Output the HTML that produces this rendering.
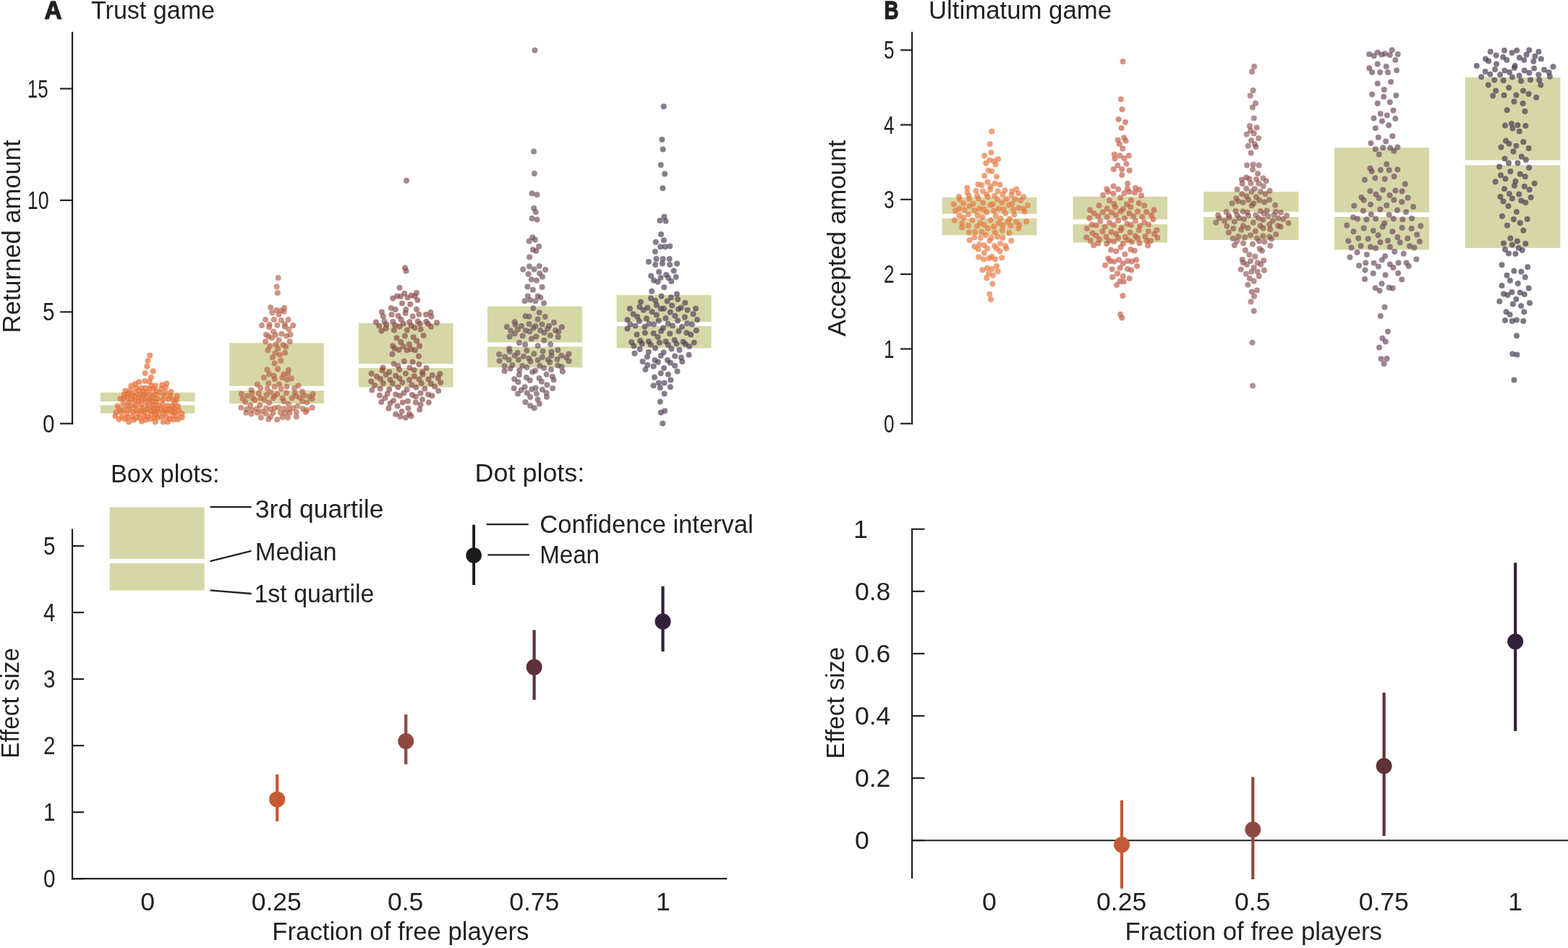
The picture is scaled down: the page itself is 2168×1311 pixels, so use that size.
<!DOCTYPE html>
<html><head><meta charset="utf-8"><title>Trust game and Ultimatum game</title>
<style>
html,body{margin:0;padding:0;background:#fff;}
svg{display:block;}
text{font-family:'Liberation Sans', sans-serif;fill:#231f20;}
</style></head><body>
<svg width="2168" height="1311" viewBox="0 0 2168 1311">
<rect width="2168" height="1311" fill="#ffffff"/>
<text x="61.5" y="26.2" font-size="35.5" font-weight="bold" textLength="24.0" lengthAdjust="spacingAndGlyphs" stroke="#231f20" stroke-width="1.4" stroke-linejoin="round">A</text>
<text x="126.0" y="26.4" font-size="35.5" textLength="171.0" lengthAdjust="spacingAndGlyphs">Trust game</text>
<text x="1222.5" y="26.2" font-size="35.5" font-weight="bold" textLength="20.0" lengthAdjust="spacingAndGlyphs" stroke="#231f20" stroke-width="1.4" stroke-linejoin="round">B</text>
<text x="1284.0" y="26.4" font-size="35.5" textLength="253.0" lengthAdjust="spacingAndGlyphs">Ultimatum game</text>
<line x1="100.0" y1="44.0" x2="100.0" y2="587.0" stroke="#231f20" stroke-width="2.2"/>
<line x1="83.0" y1="585.8" x2="101.2" y2="585.8" stroke="#231f20" stroke-width="2.2"/>
<text x="59.0" y="597.8" font-size="35.5" textLength="16.5" lengthAdjust="spacingAndGlyphs">0</text>
<line x1="83.0" y1="431.4" x2="101.2" y2="431.4" stroke="#231f20" stroke-width="2.2"/>
<text x="59.0" y="443.4" font-size="35.5" textLength="16.5" lengthAdjust="spacingAndGlyphs">5</text>
<line x1="83.0" y1="277.0" x2="101.2" y2="277.0" stroke="#231f20" stroke-width="2.2"/>
<text x="37.8" y="289.0" font-size="35.5" textLength="29.8" lengthAdjust="spacingAndGlyphs">10</text>
<line x1="83.0" y1="122.6" x2="101.2" y2="122.6" stroke="#231f20" stroke-width="2.2"/>
<text x="37.8" y="134.6" font-size="35.5" textLength="28.9" lengthAdjust="spacingAndGlyphs">15</text>
<text x="27.5" y="460.5" font-size="35.5" textLength="267.0" lengthAdjust="spacingAndGlyphs" transform="rotate(-90 27.5 460.5)">Returned amount</text>
<line x1="1261.0" y1="44.0" x2="1261.0" y2="587.0" stroke="#231f20" stroke-width="2.2"/>
<line x1="1245.0" y1="585.8" x2="1262.2" y2="585.8" stroke="#231f20" stroke-width="2.2"/>
<text x="1222.0" y="597.8" font-size="35.5" textLength="14.5" lengthAdjust="spacingAndGlyphs">0</text>
<line x1="1245.0" y1="482.5" x2="1262.2" y2="482.5" stroke="#231f20" stroke-width="2.2"/>
<text x="1222.0" y="494.5" font-size="35.5" textLength="14.5" lengthAdjust="spacingAndGlyphs">1</text>
<line x1="1245.0" y1="379.2" x2="1262.2" y2="379.2" stroke="#231f20" stroke-width="2.2"/>
<text x="1222.0" y="391.2" font-size="35.5" textLength="14.5" lengthAdjust="spacingAndGlyphs">2</text>
<line x1="1245.0" y1="275.9" x2="1262.2" y2="275.9" stroke="#231f20" stroke-width="2.2"/>
<text x="1222.0" y="287.9" font-size="35.5" textLength="14.5" lengthAdjust="spacingAndGlyphs">3</text>
<line x1="1245.0" y1="172.6" x2="1262.2" y2="172.6" stroke="#231f20" stroke-width="2.2"/>
<text x="1222.0" y="184.6" font-size="35.5" textLength="14.5" lengthAdjust="spacingAndGlyphs">4</text>
<line x1="1245.0" y1="69.3" x2="1262.2" y2="69.3" stroke="#231f20" stroke-width="2.2"/>
<text x="1222.0" y="81.3" font-size="35.5" textLength="14.5" lengthAdjust="spacingAndGlyphs">5</text>
<text x="1169.0" y="465.3" font-size="35.5" textLength="271.4" lengthAdjust="spacingAndGlyphs" transform="rotate(-90 1169.0 465.3)">Accepted amount</text>
<line x1="100.0" y1="731.5" x2="100.0" y2="1216.4" stroke="#231f20" stroke-width="2.2"/>
<line x1="98.8" y1="1215.2" x2="1005.2" y2="1215.2" stroke="#231f20" stroke-width="2.2"/>
<line x1="100.0" y1="1215.2" x2="116.0" y2="1215.2" stroke="#231f20" stroke-width="2.2"/>
<text x="60.0" y="1227.2" font-size="35.5" textLength="16.5" lengthAdjust="spacingAndGlyphs">0</text>
<line x1="100.0" y1="1123.2" x2="116.0" y2="1123.2" stroke="#231f20" stroke-width="2.2"/>
<text x="60.0" y="1135.2" font-size="35.5" textLength="16.5" lengthAdjust="spacingAndGlyphs">1</text>
<line x1="100.0" y1="1031.1" x2="116.0" y2="1031.1" stroke="#231f20" stroke-width="2.2"/>
<text x="60.0" y="1043.1" font-size="35.5" textLength="16.5" lengthAdjust="spacingAndGlyphs">2</text>
<line x1="100.0" y1="939.1" x2="116.0" y2="939.1" stroke="#231f20" stroke-width="2.2"/>
<text x="60.0" y="951.1" font-size="35.5" textLength="16.5" lengthAdjust="spacingAndGlyphs">3</text>
<line x1="100.0" y1="847.0" x2="116.0" y2="847.0" stroke="#231f20" stroke-width="2.2"/>
<text x="60.0" y="859.0" font-size="35.5" textLength="16.5" lengthAdjust="spacingAndGlyphs">4</text>
<line x1="100.0" y1="755.0" x2="116.0" y2="755.0" stroke="#231f20" stroke-width="2.2"/>
<text x="60.0" y="767.0" font-size="35.5" textLength="16.5" lengthAdjust="spacingAndGlyphs">5</text>
<text x="26.0" y="1048.8" font-size="35.5" textLength="152.8" lengthAdjust="spacingAndGlyphs" transform="rotate(-90 26.0 1048.8)">Effect size</text>
<text x="204.0" y="1259.3" font-size="35.5" text-anchor="middle">0</text>
<text x="382.3" y="1259.3" font-size="35.5" text-anchor="middle">0.25</text>
<text x="560.7" y="1259.3" font-size="35.5" text-anchor="middle">0.5</text>
<text x="738.8" y="1259.3" font-size="35.5" text-anchor="middle">0.75</text>
<text x="916.8" y="1259.3" font-size="35.5" text-anchor="middle">1</text>
<text x="376.3" y="1299.8" font-size="35.5" textLength="355.1" lengthAdjust="spacingAndGlyphs">Fraction of free players</text>
<line x1="1261.0" y1="731.7" x2="1261.0" y2="1215.0" stroke="#231f20" stroke-width="2.2"/>
<line x1="1261.0" y1="1162.2" x2="2168.0" y2="1162.2" stroke="#231f20" stroke-width="2"/>
<line x1="1259.8" y1="1162.2" x2="1278.4" y2="1162.2" stroke="#231f20" stroke-width="2.2"/>
<text x="1182.0" y="1174.2" font-size="35.5">0</text>
<line x1="1259.8" y1="1076.1" x2="1278.4" y2="1076.1" stroke="#231f20" stroke-width="2.2"/>
<text x="1182.0" y="1088.1" font-size="35.5">0.2</text>
<line x1="1259.8" y1="990.0" x2="1278.4" y2="990.0" stroke="#231f20" stroke-width="2.2"/>
<text x="1182.0" y="1002.0" font-size="35.5">0.4</text>
<line x1="1259.8" y1="903.9" x2="1278.4" y2="903.9" stroke="#231f20" stroke-width="2.2"/>
<text x="1182.0" y="915.9" font-size="35.5">0.6</text>
<line x1="1259.8" y1="817.8" x2="1278.4" y2="817.8" stroke="#231f20" stroke-width="2.2"/>
<text x="1182.0" y="829.8" font-size="35.5">0.8</text>
<line x1="1259.8" y1="731.7" x2="1278.4" y2="731.7" stroke="#231f20" stroke-width="2.2"/>
<text x="1180.0" y="743.7" font-size="35.5">1</text>
<text x="1166.6" y="1049.4" font-size="35.5" textLength="154.7" lengthAdjust="spacingAndGlyphs" transform="rotate(-90 1166.6 1049.4)">Effect size</text>
<text x="1367.9" y="1259.3" font-size="35.5" text-anchor="middle">0</text>
<text x="1550.6" y="1259.3" font-size="35.5" text-anchor="middle">0.25</text>
<text x="1731.8" y="1259.3" font-size="35.5" text-anchor="middle">0.5</text>
<text x="1913.2" y="1259.3" font-size="35.5" text-anchor="middle">0.75</text>
<text x="2095.0" y="1259.3" font-size="35.5" text-anchor="middle">1</text>
<text x="1555.5" y="1299.8" font-size="35.5" textLength="355.5" lengthAdjust="spacingAndGlyphs">Fraction of free players</text>
<text x="153.0" y="666.7" font-size="35.5" textLength="150.5" lengthAdjust="spacingAndGlyphs">Box plots:</text>
<rect x="151.7" y="701.2" width="131.0" height="115.2" fill="#d6d7a7"/>
<rect x="151.7" y="772.8" width="131.0" height="6.3" fill="#ffffff"/>
<line x1="290.5" y1="701.2" x2="347.6" y2="701.2" stroke="#231f20" stroke-width="2.3"/>
<line x1="290.5" y1="776.2" x2="347.6" y2="761.9" stroke="#231f20" stroke-width="2.3"/>
<line x1="290.5" y1="816.4" x2="347.6" y2="821.0" stroke="#231f20" stroke-width="2.3"/>
<text x="352.8" y="716.0" font-size="35.5" textLength="177.7" lengthAdjust="spacingAndGlyphs">3rd quartile</text>
<text x="352.8" y="774.9" font-size="35.5" textLength="112.8" lengthAdjust="spacingAndGlyphs">Median</text>
<text x="351.5" y="833.2" font-size="35.5" textLength="166.0" lengthAdjust="spacingAndGlyphs">1st quartile</text>
<text x="656.6" y="665.9" font-size="35.5" textLength="151.7" lengthAdjust="spacingAndGlyphs">Dot plots:</text>
<line x1="655.1" y1="725.7" x2="655.1" y2="809.0" stroke="#1c1a1c" stroke-width="3.9"/>
<circle cx="655.1" cy="768" r="10.8" fill="#1c1a1c"/>
<line x1="672.6" y1="725.1" x2="730.7" y2="725.1" stroke="#231f20" stroke-width="2.3"/>
<line x1="674.3" y1="767.4" x2="732.0" y2="767.4" stroke="#231f20" stroke-width="2.3"/>
<text x="746.3" y="737.0" font-size="35.5" textLength="295.4" lengthAdjust="spacingAndGlyphs">Confidence interval</text>
<text x="746.3" y="779.1" font-size="35.5" textLength="82.7" lengthAdjust="spacingAndGlyphs">Mean</text>
<line x1="383.2" y1="1070.9" x2="383.2" y2="1135.8" stroke="#c55a35" stroke-width="4.2"/>
<circle cx="383.2" cy="1105.4" r="11" fill="#c55a35"/>
<line x1="561.2" y1="988.0" x2="561.2" y2="1057.0" stroke="#8e4a40" stroke-width="4.2"/>
<circle cx="561.2" cy="1025.0" r="11" fill="#8e4a40"/>
<line x1="738.6" y1="871.2" x2="738.6" y2="967.9" stroke="#5f3139" stroke-width="4.2"/>
<circle cx="738.6" cy="922.6" r="11" fill="#5f3139"/>
<line x1="916.5" y1="810.7" x2="916.5" y2="901.0" stroke="#33203a" stroke-width="4.2"/>
<circle cx="916.5" cy="859.5" r="11" fill="#33203a"/>
<line x1="1551.0" y1="1106.7" x2="1551.0" y2="1228.8" stroke="#c55a35" stroke-width="4.2"/>
<circle cx="1551.0" cy="1168.2" r="11" fill="#c55a35"/>
<line x1="1732.3" y1="1074.5" x2="1732.3" y2="1216.1" stroke="#8e4a40" stroke-width="4.2"/>
<circle cx="1732.3" cy="1147.3" r="11" fill="#8e4a40"/>
<line x1="1913.6" y1="957.8" x2="1913.6" y2="1156.0" stroke="#5f3139" stroke-width="4.2"/>
<circle cx="1913.6" cy="1059.3" r="11" fill="#5f3139"/>
<line x1="2095.2" y1="778.3" x2="2095.2" y2="1011.0" stroke="#33203a" stroke-width="4.2"/>
<circle cx="2095.2" cy="887.2" r="11" fill="#33203a"/>
<rect x="138.8" y="542.7" width="130.6" height="28.9" fill="#d6d7a7"/>
<rect x="138.8" y="555.2" width="130.6" height="5.1" fill="#ffffff"/>
<rect x="317.2" y="474.3" width="130.6" height="83.8" fill="#d6d7a7"/>
<rect x="317.2" y="533.8" width="130.6" height="6.3" fill="#ffffff"/>
<rect x="495.9" y="447.0" width="130.7" height="88.5" fill="#d6d7a7"/>
<rect x="495.9" y="503.2" width="130.7" height="5.8" fill="#ffffff"/>
<rect x="674.0" y="423.5" width="131.1" height="84.7" fill="#d6d7a7"/>
<rect x="674.0" y="473.4" width="131.1" height="6.0" fill="#ffffff"/>
<rect x="852.6" y="408.0" width="130.9" height="73.5" fill="#d6d7a7"/>
<rect x="852.6" y="445.0" width="130.9" height="6.0" fill="#ffffff"/>
<rect x="1302.6" y="272.9" width="130.9" height="52.4" fill="#d6d7a7"/>
<rect x="1302.6" y="295.7" width="130.9" height="6.3" fill="#ffffff"/>
<rect x="1483.5" y="271.8" width="130.6" height="63.7" fill="#d6d7a7"/>
<rect x="1483.5" y="303.4" width="130.6" height="6.8" fill="#ffffff"/>
<rect x="1664.2" y="265.2" width="131.3" height="66.7" fill="#d6d7a7"/>
<rect x="1664.2" y="292.9" width="131.3" height="7.1" fill="#ffffff"/>
<rect x="1845.1" y="204.1" width="130.9" height="141.4" fill="#d6d7a7"/>
<rect x="1845.1" y="293.6" width="130.9" height="6.4" fill="#ffffff"/>
<rect x="2025.9" y="106.8" width="131.4" height="236.1" fill="#d6d7a7"/>
<rect x="2025.9" y="221.5" width="131.4" height="6.7" fill="#ffffff"/>
<g fill="#e8703a" fill-opacity="0.72"><circle cx="207.2" cy="491.4" r="4.0"/><circle cx="204.5" cy="498.9" r="4.0"/><circle cx="203.2" cy="506.7" r="4.0"/><circle cx="200.6" cy="516.0" r="4.0"/><circle cx="211.6" cy="513.3" r="4.0"/><circle cx="208.9" cy="522.1" r="4.0"/><circle cx="200.2" cy="527.0" r="4.0"/><circle cx="206.6" cy="527.8" r="4.0"/><circle cx="192.2" cy="528.3" r="4.0"/><circle cx="181.4" cy="533.5" r="4.0"/><circle cx="201.6" cy="536.6" r="4.0"/><circle cx="212.1" cy="537.6" r="4.0"/><circle cx="209.5" cy="533.2" r="4.0"/><circle cx="230.3" cy="530.4" r="4.0"/><circle cx="224.1" cy="532.3" r="4.0"/><circle cx="187.0" cy="530.9" r="4.0"/><circle cx="195.5" cy="536.5" r="4.0"/><circle cx="214.9" cy="533.4" r="4.0"/><circle cx="223.2" cy="537.6" r="4.0"/><circle cx="229.1" cy="535.5" r="4.0"/><circle cx="207.0" cy="537.8" r="4.0"/><circle cx="188.2" cy="536.2" r="4.0"/><circle cx="207.7" cy="545.0" r="4.0"/><circle cx="226.7" cy="546.9" r="4.0"/><circle cx="186.9" cy="542.7" r="4.0"/><circle cx="173.4" cy="540.5" r="4.0"/><circle cx="236.5" cy="542.0" r="4.0"/><circle cx="235.2" cy="546.9" r="4.0"/><circle cx="213.9" cy="546.1" r="4.0"/><circle cx="228.6" cy="542.3" r="4.0"/><circle cx="177.3" cy="543.9" r="4.0"/><circle cx="194.1" cy="545.2" r="4.0"/><circle cx="198.8" cy="546.5" r="4.0"/><circle cx="180.1" cy="539.4" r="4.0"/><circle cx="171.8" cy="545.2" r="4.0"/><circle cx="220.8" cy="543.0" r="4.0"/><circle cx="202.3" cy="542.8" r="4.0"/><circle cx="181.7" cy="546.3" r="4.0"/><circle cx="192.2" cy="540.1" r="4.0"/><circle cx="198.0" cy="540.9" r="4.0"/><circle cx="216.1" cy="540.7" r="4.0"/><circle cx="210.3" cy="549.4" r="4.0"/><circle cx="181.0" cy="552.4" r="4.0"/><circle cx="239.6" cy="553.0" r="4.0"/><circle cx="244.8" cy="547.8" r="4.0"/><circle cx="186.3" cy="548.5" r="4.0"/><circle cx="166.2" cy="551.3" r="4.0"/><circle cx="196.4" cy="552.6" r="4.0"/><circle cx="232.8" cy="552.1" r="4.0"/><circle cx="217.9" cy="551.6" r="4.0"/><circle cx="201.9" cy="550.3" r="4.0"/><circle cx="191.9" cy="549.5" r="4.0"/><circle cx="175.8" cy="549.4" r="4.0"/><circle cx="225.0" cy="553.0" r="4.0"/><circle cx="243.9" cy="552.7" r="4.0"/><circle cx="171.0" cy="550.7" r="4.0"/><circle cx="201.6" cy="556.5" r="4.0"/><circle cx="170.2" cy="558.0" r="4.0"/><circle cx="225.0" cy="559.2" r="4.0"/><circle cx="178.0" cy="556.4" r="4.0"/><circle cx="206.3" cy="553.3" r="4.0"/><circle cx="231.9" cy="561.0" r="4.0"/><circle cx="182.8" cy="560.9" r="4.0"/><circle cx="204.9" cy="560.7" r="4.0"/><circle cx="218.8" cy="560.2" r="4.0"/><circle cx="215.6" cy="555.9" r="4.0"/><circle cx="211.4" cy="560.1" r="4.0"/><circle cx="176.2" cy="560.9" r="4.0"/><circle cx="241.8" cy="557.6" r="4.0"/><circle cx="195.2" cy="559.1" r="4.0"/><circle cx="186.5" cy="554.2" r="4.0"/><circle cx="191.4" cy="555.4" r="4.0"/><circle cx="210.7" cy="555.5" r="4.0"/><circle cx="187.8" cy="560.6" r="4.0"/><circle cx="223.1" cy="565.5" r="4.0"/><circle cx="171.2" cy="566.7" r="4.0"/><circle cx="196.8" cy="564.6" r="4.0"/><circle cx="240.8" cy="565.5" r="4.0"/><circle cx="194.9" cy="569.0" r="4.0"/><circle cx="208.3" cy="567.8" r="4.0"/><circle cx="227.8" cy="566.8" r="4.0"/><circle cx="247.3" cy="567.6" r="4.0"/><circle cx="178.8" cy="566.7" r="4.0"/><circle cx="217.1" cy="565.2" r="4.0"/><circle cx="189.0" cy="566.7" r="4.0"/><circle cx="164.9" cy="565.9" r="4.0"/><circle cx="234.5" cy="565.7" r="4.0"/><circle cx="202.8" cy="566.1" r="4.0"/><circle cx="246.0" cy="561.7" r="4.0"/><circle cx="213.6" cy="569.4" r="4.0"/><circle cx="183.9" cy="569.7" r="4.0"/><circle cx="166.8" cy="569.8" r="4.0"/><circle cx="218.4" cy="569.9" r="4.0"/><circle cx="237.8" cy="569.0" r="4.0"/><circle cx="199.8" cy="569.8" r="4.0"/><circle cx="238.1" cy="561.0" r="4.0"/><circle cx="162.4" cy="561.4" r="4.0"/><circle cx="212.1" cy="564.7" r="4.0"/><circle cx="204.0" cy="576.3" r="4.0"/><circle cx="251.7" cy="572.3" r="4.0"/><circle cx="208.8" cy="573.1" r="4.0"/><circle cx="168.6" cy="576.6" r="4.0"/><circle cx="190.9" cy="572.0" r="4.0"/><circle cx="175.2" cy="572.3" r="4.0"/><circle cx="193.4" cy="577.7" r="4.0"/><circle cx="176.9" cy="577.6" r="4.0"/><circle cx="225.7" cy="572.1" r="4.0"/><circle cx="244.7" cy="574.7" r="4.0"/><circle cx="183.0" cy="576.2" r="4.0"/><circle cx="159.4" cy="575.4" r="4.0"/><circle cx="160.5" cy="570.3" r="4.0"/><circle cx="238.8" cy="574.6" r="4.0"/><circle cx="199.1" cy="575.5" r="4.0"/><circle cx="229.8" cy="576.6" r="4.0"/><circle cx="231.2" cy="570.3" r="4.0"/><circle cx="218.0" cy="577.5" r="4.0"/><circle cx="251.7" cy="577.3" r="4.0"/><circle cx="223.2" cy="576.6" r="4.0"/><circle cx="188.2" cy="577.9" r="4.0"/><circle cx="213.4" cy="577.9" r="4.0"/><circle cx="215.1" cy="573.6" r="4.0"/><circle cx="241.5" cy="570.3" r="4.0"/><circle cx="246.0" cy="580.1" r="4.0"/><circle cx="207.7" cy="579.5" r="4.0"/><circle cx="240.0" cy="580.3" r="4.0"/><circle cx="164.7" cy="579.8" r="4.0"/><circle cx="234.7" cy="579.2" r="4.0"/><circle cx="201.6" cy="580.8" r="4.0"/><circle cx="184.7" cy="580.7" r="4.0"/><circle cx="172.6" cy="579.4" r="4.0"/><circle cx="232.0" cy="583.5" r="4.0"/><circle cx="214.6" cy="583.5" r="4.0"/><circle cx="195.9" cy="582.8" r="4.0"/><circle cx="225.7" cy="583.4" r="4.0"/><circle cx="178.0" cy="583.5" r="4.0"/></g>
<g fill="#b8634a" fill-opacity="0.68"><circle cx="384.7" cy="384.2" r="4.0"/><circle cx="382.6" cy="396.6" r="4.0"/><circle cx="383.8" cy="405.0" r="4.0"/><circle cx="374.2" cy="425.2" r="4.0"/><circle cx="393.1" cy="425.8" r="4.0"/><circle cx="382.2" cy="429.1" r="4.0"/><circle cx="388.9" cy="429.5" r="4.0"/><circle cx="376.3" cy="432.5" r="4.0"/><circle cx="392.7" cy="430.8" r="4.0"/><circle cx="385.5" cy="435.0" r="4.0"/><circle cx="367.1" cy="442.1" r="4.0"/><circle cx="378.8" cy="442.1" r="4.0"/><circle cx="388.9" cy="443.0" r="4.0"/><circle cx="398.5" cy="442.1" r="4.0"/><circle cx="362.0" cy="450.1" r="4.0"/><circle cx="372.5" cy="448.8" r="4.0"/><circle cx="383.4" cy="449.7" r="4.0"/><circle cx="393.9" cy="448.4" r="4.0"/><circle cx="405.2" cy="450.1" r="4.0"/><circle cx="372.1" cy="452.2" r="4.0"/><circle cx="393.9" cy="451.8" r="4.0"/><circle cx="399.4" cy="455.6" r="4.0"/><circle cx="378.0" cy="458.5" r="4.0"/><circle cx="367.9" cy="462.7" r="4.0"/><circle cx="380.9" cy="463.1" r="4.0"/><circle cx="389.3" cy="461.8" r="4.0"/><circle cx="396.0" cy="464.4" r="4.0"/><circle cx="401.5" cy="462.7" r="4.0"/><circle cx="371.3" cy="465.2" r="4.0"/><circle cx="375.9" cy="467.3" r="4.0"/><circle cx="385.5" cy="470.2" r="4.0"/><circle cx="367.1" cy="472.3" r="4.0"/><circle cx="400.6" cy="472.3" r="4.0"/><circle cx="373.2" cy="478.7" r="4.0"/><circle cx="381.4" cy="476.4" r="4.0"/><circle cx="391.5" cy="476.9" r="4.0"/><circle cx="395.1" cy="479.6" r="4.0"/><circle cx="370.4" cy="484.2" r="4.0"/><circle cx="384.1" cy="481.9" r="4.0"/><circle cx="394.2" cy="487.9" r="4.0"/><circle cx="380.5" cy="488.3" r="4.0"/><circle cx="386.9" cy="490.6" r="4.0"/><circle cx="376.8" cy="494.3" r="4.0"/><circle cx="388.3" cy="498.8" r="4.0"/><circle cx="379.6" cy="502.5" r="4.0"/><circle cx="369.5" cy="511.2" r="4.0"/><circle cx="384.1" cy="510.3" r="4.0"/><circle cx="398.8" cy="511.7" r="4.0"/><circle cx="372.2" cy="517.6" r="4.0"/><circle cx="378.7" cy="519.4" r="4.0"/><circle cx="392.4" cy="517.6" r="4.0"/><circle cx="397.9" cy="517.1" r="4.0"/><circle cx="364.9" cy="522.2" r="4.0"/><circle cx="379.6" cy="524.0" r="4.0"/><circle cx="390.6" cy="522.2" r="4.0"/><circle cx="397.0" cy="524.9" r="4.0"/><circle cx="402.9" cy="523.6" r="4.0"/><circle cx="371.3" cy="530.0" r="4.0"/><circle cx="355.8" cy="531.8" r="4.0"/><circle cx="386.0" cy="531.3" r="4.0"/><circle cx="396.5" cy="534.5" r="4.0"/><circle cx="412.5" cy="533.2" r="4.0"/><circle cx="379.6" cy="535.0" r="4.0"/><circle cx="360.3" cy="536.8" r="4.0"/><circle cx="369.5" cy="537.3" r="4.0"/><circle cx="388.7" cy="537.7" r="4.0"/><circle cx="407.0" cy="536.8" r="4.0"/><circle cx="347.5" cy="539.6" r="4.0"/><circle cx="333.8" cy="544.6" r="4.0"/><circle cx="342.0" cy="547.4" r="4.0"/><circle cx="348.4" cy="543.2" r="4.0"/><circle cx="357.6" cy="544.1" r="4.0"/><circle cx="368.6" cy="546.0" r="4.0"/><circle cx="374.1" cy="542.3" r="4.0"/><circle cx="383.2" cy="545.1" r="4.0"/><circle cx="396.0" cy="543.2" r="4.0"/><circle cx="407.9" cy="543.2" r="4.0"/><circle cx="418.0" cy="541.4" r="4.0"/><circle cx="432.7" cy="545.1" r="4.0"/><circle cx="335.6" cy="551.5" r="4.0"/><circle cx="349.4" cy="550.6" r="4.0"/><circle cx="360.3" cy="550.6" r="4.0"/><circle cx="365.8" cy="552.8" r="4.0"/><circle cx="377.7" cy="550.6" r="4.0"/><circle cx="390.6" cy="550.6" r="4.0"/><circle cx="403.4" cy="550.6" r="4.0"/><circle cx="414.4" cy="549.6" r="4.0"/><circle cx="420.8" cy="546.9" r="4.0"/><circle cx="428.1" cy="548.7" r="4.0"/><circle cx="431.7" cy="551.5" r="4.0"/><circle cx="339.3" cy="556.0" r="4.0"/><circle cx="352.1" cy="553.3" r="4.0"/><circle cx="372.2" cy="557.0" r="4.0"/><circle cx="392.4" cy="555.1" r="4.0"/><circle cx="418.0" cy="555.1" r="4.0"/><circle cx="424.4" cy="556.5" r="4.0"/><circle cx="398.8" cy="558.8" r="4.0"/><circle cx="379.6" cy="547.8" r="4.0"/><circle cx="408.9" cy="547.8" r="4.0"/><circle cx="333.3" cy="563.8" r="4.0"/><circle cx="346.2" cy="560.6" r="4.0"/><circle cx="359.4" cy="560.6" r="4.0"/><circle cx="341.1" cy="566.1" r="4.0"/><circle cx="348.4" cy="567.0" r="4.0"/><circle cx="354.9" cy="565.2" r="4.0"/><circle cx="367.7" cy="564.7" r="4.0"/><circle cx="374.1" cy="565.7" r="4.0"/><circle cx="379.6" cy="564.3" r="4.0"/><circle cx="385.1" cy="563.4" r="4.0"/><circle cx="392.4" cy="565.2" r="4.0"/><circle cx="399.3" cy="566.1" r="4.0"/><circle cx="405.2" cy="564.3" r="4.0"/><circle cx="411.6" cy="561.5" r="4.0"/><circle cx="418.9" cy="565.2" r="4.0"/><circle cx="424.4" cy="567.0" r="4.0"/><circle cx="431.7" cy="563.8" r="4.0"/><circle cx="340.2" cy="570.7" r="4.0"/><circle cx="347.5" cy="572.5" r="4.0"/><circle cx="355.8" cy="570.7" r="4.0"/><circle cx="362.2" cy="568.9" r="4.0"/><circle cx="367.7" cy="572.1" r="4.0"/><circle cx="377.7" cy="570.7" r="4.0"/><circle cx="387.8" cy="570.7" r="4.0"/><circle cx="394.2" cy="571.2" r="4.0"/><circle cx="400.6" cy="570.7" r="4.0"/><circle cx="409.8" cy="569.8" r="4.0"/><circle cx="422.6" cy="569.8" r="4.0"/><circle cx="360.8" cy="577.6" r="4.0"/><circle cx="374.1" cy="576.2" r="4.0"/><circle cx="371.3" cy="579.8" r="4.0"/><circle cx="383.2" cy="580.3" r="4.0"/><circle cx="390.6" cy="577.1" r="4.0"/><circle cx="397.9" cy="577.6" r="4.0"/><circle cx="409.8" cy="576.2" r="4.0"/></g>
<g fill="#864848" fill-opacity="0.66"><circle cx="552.5" cy="398.0" r="4.0"/><circle cx="559.2" cy="405.7" r="4.0"/><circle cx="575.9" cy="405.0" r="4.0"/><circle cx="543.2" cy="412.5" r="4.0"/><circle cx="548.9" cy="409.4" r="4.0"/><circle cx="553.9" cy="410.0" r="4.0"/><circle cx="563.6" cy="411.4" r="4.0"/><circle cx="568.6" cy="408.4" r="4.0"/><circle cx="573.6" cy="409.4" r="4.0"/><circle cx="577.3" cy="415.1" r="4.0"/><circle cx="555.9" cy="419.4" r="4.0"/><circle cx="567.2" cy="420.7" r="4.0"/><circle cx="540.8" cy="426.1" r="4.0"/><circle cx="546.8" cy="428.1" r="4.0"/><circle cx="561.2" cy="428.1" r="4.0"/><circle cx="575.9" cy="427.8" r="4.0"/><circle cx="527.8" cy="431.5" r="4.0"/><circle cx="560.6" cy="433.1" r="4.0"/><circle cx="570.6" cy="437.5" r="4.0"/><circle cx="579.3" cy="434.8" r="4.0"/><circle cx="589.0" cy="435.1" r="4.0"/><circle cx="595.3" cy="432.1" r="4.0"/><circle cx="596.3" cy="437.8" r="4.0"/><circle cx="541.5" cy="435.1" r="4.0"/><circle cx="550.5" cy="436.8" r="4.0"/><circle cx="529.8" cy="437.5" r="4.0"/><circle cx="519.8" cy="445.5" r="4.0"/><circle cx="531.5" cy="444.5" r="4.0"/><circle cx="543.2" cy="444.8" r="4.0"/><circle cx="554.5" cy="441.8" r="4.0"/><circle cx="557.6" cy="447.5" r="4.0"/><circle cx="566.2" cy="445.2" r="4.0"/><circle cx="577.6" cy="444.2" r="4.0"/><circle cx="580.6" cy="447.8" r="4.0"/><circle cx="589.3" cy="444.8" r="4.0"/><circle cx="604.0" cy="446.2" r="4.0"/><circle cx="524.1" cy="450.5" r="4.0"/><circle cx="534.1" cy="448.5" r="4.0"/><circle cx="546.2" cy="449.8" r="4.0"/><circle cx="552.5" cy="451.8" r="4.0"/><circle cx="568.6" cy="450.5" r="4.0"/><circle cx="573.3" cy="453.2" r="4.0"/><circle cx="592.0" cy="447.8" r="4.0"/><circle cx="595.7" cy="451.8" r="4.0"/><circle cx="527.5" cy="457.5" r="4.0"/><circle cx="533.5" cy="453.9" r="4.0"/><circle cx="544.8" cy="456.5" r="4.0"/><circle cx="562.9" cy="456.5" r="4.0"/><circle cx="581.6" cy="455.5" r="4.0"/><circle cx="585.6" cy="463.9" r="4.0"/><circle cx="548.5" cy="467.2" r="4.0"/><circle cx="559.9" cy="464.6" r="4.0"/><circle cx="571.6" cy="466.2" r="4.0"/><circle cx="554.2" cy="472.9" r="4.0"/><circle cx="576.3" cy="471.6" r="4.0"/><circle cx="565.9" cy="476.3" r="4.0"/><circle cx="543.2" cy="478.6" r="4.0"/><circle cx="557.6" cy="479.3" r="4.0"/><circle cx="580.0" cy="478.6" r="4.0"/><circle cx="545.4" cy="481.7" r="4.0"/><circle cx="551.3" cy="483.8" r="4.0"/><circle cx="562.6" cy="484.2" r="4.0"/><circle cx="568.5" cy="483.0" r="4.0"/><circle cx="573.9" cy="484.2" r="4.0"/><circle cx="542.4" cy="489.7" r="4.0"/><circle cx="578.9" cy="492.6" r="4.0"/><circle cx="558.8" cy="499.8" r="4.0"/><circle cx="570.6" cy="500.6" r="4.0"/><circle cx="544.5" cy="503.1" r="4.0"/><circle cx="550.4" cy="506.0" r="4.0"/><circle cx="552.1" cy="511.1" r="4.0"/><circle cx="579.4" cy="503.9" r="4.0"/><circle cx="566.4" cy="508.6" r="4.0"/><circle cx="572.7" cy="511.5" r="4.0"/><circle cx="589.4" cy="509.0" r="4.0"/><circle cx="529.4" cy="508.6" r="4.0"/><circle cx="528.6" cy="511.9" r="4.0"/><circle cx="513.5" cy="516.5" r="4.0"/><circle cx="521.0" cy="520.7" r="4.0"/><circle cx="526.1" cy="524.1" r="4.0"/><circle cx="538.2" cy="514.4" r="4.0"/><circle cx="533.6" cy="518.2" r="4.0"/><circle cx="547.1" cy="519.5" r="4.0"/><circle cx="560.9" cy="516.5" r="4.0"/><circle cx="572.7" cy="520.3" r="4.0"/><circle cx="584.0" cy="514.4" r="4.0"/><circle cx="584.4" cy="517.8" r="4.0"/><circle cx="597.8" cy="519.1" r="4.0"/><circle cx="608.3" cy="517.0" r="4.0"/><circle cx="513.1" cy="527.4" r="4.0"/><circle cx="539.5" cy="525.3" r="4.0"/><circle cx="552.5" cy="523.2" r="4.0"/><circle cx="565.9" cy="525.3" r="4.0"/><circle cx="579.4" cy="524.5" r="4.0"/><circle cx="592.4" cy="524.5" r="4.0"/><circle cx="605.8" cy="522.8" r="4.0"/><circle cx="529.9" cy="530.0" r="4.0"/><circle cx="542.9" cy="530.4" r="4.0"/><circle cx="556.3" cy="529.1" r="4.0"/><circle cx="582.7" cy="530.0" r="4.0"/><circle cx="609.2" cy="529.1" r="4.0"/><circle cx="518.1" cy="532.9" r="4.0"/><circle cx="569.3" cy="532.5" r="4.0"/><circle cx="595.7" cy="530.4" r="4.0"/><circle cx="550.4" cy="535.4" r="4.0"/><circle cx="575.2" cy="535.8" r="4.0"/><circle cx="600.8" cy="534.6" r="4.0"/><circle cx="514.3" cy="539.6" r="4.0"/><circle cx="525.7" cy="537.5" r="4.0"/><circle cx="538.2" cy="538.4" r="4.0"/><circle cx="562.6" cy="538.8" r="4.0"/><circle cx="587.3" cy="537.5" r="4.0"/><circle cx="606.2" cy="540.5" r="4.0"/><circle cx="524.8" cy="546.7" r="4.0"/><circle cx="535.7" cy="544.6" r="4.0"/><circle cx="547.1" cy="545.5" r="4.0"/><circle cx="552.9" cy="547.2" r="4.0"/><circle cx="558.4" cy="543.4" r="4.0"/><circle cx="569.7" cy="545.9" r="4.0"/><circle cx="574.8" cy="548.4" r="4.0"/><circle cx="581.5" cy="543.8" r="4.0"/><circle cx="592.0" cy="545.5" r="4.0"/><circle cx="597.4" cy="547.2" r="4.0"/><circle cx="532.4" cy="550.5" r="4.0"/><circle cx="527.3" cy="556.0" r="4.0"/><circle cx="539.5" cy="557.7" r="4.0"/><circle cx="544.1" cy="553.9" r="4.0"/><circle cx="556.7" cy="556.4" r="4.0"/><circle cx="563.8" cy="554.7" r="4.0"/><circle cx="574.8" cy="556.4" r="4.0"/><circle cx="584.0" cy="552.6" r="4.0"/><circle cx="592.8" cy="556.4" r="4.0"/><circle cx="549.6" cy="561.4" r="4.0"/><circle cx="581.5" cy="559.8" r="4.0"/><circle cx="537.4" cy="564.8" r="4.0"/><circle cx="564.3" cy="564.4" r="4.0"/><circle cx="580.2" cy="566.5" r="4.0"/><circle cx="555.5" cy="569.0" r="4.0"/><circle cx="547.1" cy="572.8" r="4.0"/><circle cx="565.9" cy="572.3" r="4.0"/><circle cx="553.4" cy="576.1" r="4.0"/><circle cx="560.9" cy="577.4" r="4.0"/><circle cx="568.5" cy="575.3" r="4.0"/><circle cx="562.0" cy="249.7" r="4.0"/><circle cx="560.0" cy="370.5" r="4.0"/><circle cx="561.5" cy="374.7" r="4.0"/></g>
<g fill="#6f4f5c" fill-opacity="0.68"><circle cx="731.9" cy="368.4" r="4.0"/><circle cx="745.7" cy="368.0" r="4.0"/><circle cx="723.1" cy="372.6" r="4.0"/><circle cx="738.6" cy="372.6" r="4.0"/><circle cx="754.1" cy="373.0" r="4.0"/><circle cx="730.6" cy="378.9" r="4.0"/><circle cx="746.1" cy="378.1" r="4.0"/><circle cx="749.9" cy="382.7" r="4.0"/><circle cx="734.8" cy="386.5" r="4.0"/><circle cx="741.9" cy="387.7" r="4.0"/><circle cx="729.4" cy="396.5" r="4.0"/><circle cx="749.5" cy="397.0" r="4.0"/><circle cx="736.9" cy="400.7" r="4.0"/><circle cx="729.8" cy="409.5" r="4.0"/><circle cx="743.6" cy="409.5" r="4.0"/><circle cx="747.4" cy="411.6" r="4.0"/><circle cx="725.6" cy="416.3" r="4.0"/><circle cx="733.1" cy="415.0" r="4.0"/><circle cx="740.3" cy="416.3" r="4.0"/><circle cx="752.0" cy="419.2" r="4.0"/><circle cx="737.3" cy="426.3" r="4.0"/><circle cx="745.7" cy="432.2" r="4.0"/><circle cx="726.4" cy="437.2" r="4.0"/><circle cx="731.5" cy="437.7" r="4.0"/><circle cx="753.7" cy="438.1" r="4.0"/><circle cx="743.6" cy="441.4" r="4.0"/><circle cx="711.7" cy="445.2" r="4.0"/><circle cx="700.8" cy="451.9" r="4.0"/><circle cx="712.6" cy="449.0" r="4.0"/><circle cx="721.0" cy="450.7" r="4.0"/><circle cx="731.5" cy="448.1" r="4.0"/><circle cx="740.3" cy="451.1" r="4.0"/><circle cx="749.5" cy="448.6" r="4.0"/><circle cx="759.1" cy="450.7" r="4.0"/><circle cx="765.9" cy="446.0" r="4.0"/><circle cx="776.8" cy="452.3" r="4.0"/><circle cx="706.3" cy="457.4" r="4.0"/><circle cx="715.9" cy="455.7" r="4.0"/><circle cx="726.8" cy="457.0" r="4.0"/><circle cx="732.3" cy="458.6" r="4.0"/><circle cx="737.7" cy="453.6" r="4.0"/><circle cx="747.0" cy="457.0" r="4.0"/><circle cx="752.4" cy="459.9" r="4.0"/><circle cx="757.0" cy="454.4" r="4.0"/><circle cx="768.0" cy="457.0" r="4.0"/><circle cx="772.1" cy="458.6" r="4.0"/><circle cx="711.6" cy="461.6" r="4.0"/><circle cx="704.6" cy="465.5" r="4.0"/><circle cx="722.6" cy="464.6" r="4.0"/><circle cx="734.9" cy="468.6" r="4.0"/><circle cx="741.4" cy="465.5" r="4.0"/><circle cx="752.4" cy="470.8" r="4.0"/><circle cx="760.7" cy="463.8" r="4.0"/><circle cx="771.7" cy="466.0" r="4.0"/><circle cx="717.8" cy="473.9" r="4.0"/><circle cx="726.1" cy="476.5" r="4.0"/><circle cx="743.6" cy="478.2" r="4.0"/><circle cx="761.2" cy="476.1" r="4.0"/><circle cx="704.2" cy="482.2" r="4.0"/><circle cx="704.6" cy="486.1" r="4.0"/><circle cx="715.6" cy="487.9" r="4.0"/><circle cx="711.6" cy="491.8" r="4.0"/><circle cx="728.3" cy="484.8" r="4.0"/><circle cx="723.9" cy="492.7" r="4.0"/><circle cx="731.4" cy="495.8" r="4.0"/><circle cx="733.5" cy="499.7" r="4.0"/><circle cx="738.4" cy="489.2" r="4.0"/><circle cx="743.6" cy="498.0" r="4.0"/><circle cx="750.6" cy="485.7" r="4.0"/><circle cx="749.8" cy="494.0" r="4.0"/><circle cx="757.7" cy="497.5" r="4.0"/><circle cx="760.3" cy="501.1" r="4.0"/><circle cx="762.5" cy="486.6" r="4.0"/><circle cx="762.5" cy="491.8" r="4.0"/><circle cx="771.3" cy="483.9" r="4.0"/><circle cx="776.1" cy="491.8" r="4.0"/><circle cx="770.4" cy="497.1" r="4.0"/><circle cx="786.6" cy="489.6" r="4.0"/><circle cx="783.1" cy="494.5" r="4.0"/><circle cx="786.6" cy="499.3" r="4.0"/><circle cx="690.1" cy="490.1" r="4.0"/><circle cx="698.0" cy="493.6" r="4.0"/><circle cx="703.7" cy="497.5" r="4.0"/><circle cx="690.6" cy="498.9" r="4.0"/><circle cx="716.9" cy="497.5" r="4.0"/><circle cx="697.6" cy="506.3" r="4.0"/><circle cx="708.5" cy="505.0" r="4.0"/><circle cx="705.5" cy="509.8" r="4.0"/><circle cx="697.6" cy="513.3" r="4.0"/><circle cx="722.1" cy="505.9" r="4.0"/><circle cx="728.3" cy="508.1" r="4.0"/><circle cx="718.2" cy="512.0" r="4.0"/><circle cx="746.3" cy="505.9" r="4.0"/><circle cx="752.0" cy="508.9" r="4.0"/><circle cx="771.3" cy="505.4" r="4.0"/><circle cx="776.5" cy="507.2" r="4.0"/><circle cx="762.1" cy="511.1" r="4.0"/><circle cx="777.8" cy="513.8" r="4.0"/><circle cx="736.2" cy="514.6" r="4.0"/><circle cx="740.1" cy="512.5" r="4.0"/><circle cx="717.8" cy="518.2" r="4.0"/><circle cx="711.2" cy="524.3" r="4.0"/><circle cx="716.4" cy="528.2" r="4.0"/><circle cx="727.8" cy="522.1" r="4.0"/><circle cx="732.7" cy="526.1" r="4.0"/><circle cx="745.4" cy="523.0" r="4.0"/><circle cx="748.9" cy="527.8" r="4.0"/><circle cx="755.5" cy="517.7" r="4.0"/><circle cx="763.8" cy="520.8" r="4.0"/><circle cx="765.6" cy="525.2" r="4.0"/><circle cx="756.4" cy="532.2" r="4.0"/><circle cx="710.7" cy="537.0" r="4.0"/><circle cx="720.8" cy="539.6" r="4.0"/><circle cx="725.6" cy="535.3" r="4.0"/><circle cx="716.0" cy="544.5" r="4.0"/><circle cx="728.7" cy="543.6" r="4.0"/><circle cx="735.3" cy="538.3" r="4.0"/><circle cx="740.6" cy="536.6" r="4.0"/><circle cx="749.8" cy="538.8" r="4.0"/><circle cx="741.9" cy="544.5" r="4.0"/><circle cx="755.5" cy="543.6" r="4.0"/><circle cx="755.9" cy="548.9" r="4.0"/><circle cx="764.2" cy="537.0" r="4.0"/><circle cx="733.1" cy="548.9" r="4.0"/><circle cx="743.6" cy="552.4" r="4.0"/><circle cx="726.5" cy="555.9" r="4.0"/><circle cx="745.8" cy="558.5" r="4.0"/><circle cx="733.1" cy="561.1" r="4.0"/><circle cx="738.8" cy="564.2" r="4.0"/><circle cx="739.4" cy="69.4" r="4.0"/><circle cx="738.1" cy="209.5" r="4.0"/><circle cx="738.9" cy="240.1" r="4.0"/><circle cx="735.5" cy="267.4" r="4.0"/><circle cx="742.5" cy="269.2" r="4.0"/><circle cx="738.1" cy="288.1" r="4.0"/><circle cx="740.7" cy="293.3" r="4.0"/><circle cx="735.5" cy="301.9" r="4.0"/><circle cx="742.5" cy="303.7" r="4.0"/><circle cx="736.3" cy="328.3" r="4.0"/><circle cx="731.6" cy="333.5" r="4.0"/><circle cx="739.9" cy="331.4" r="4.0"/><circle cx="745.1" cy="340.8" r="4.0"/><circle cx="736.8" cy="345.2" r="4.0"/><circle cx="741.2" cy="347.0" r="4.0"/><circle cx="732.1" cy="355.5" r="4.0"/></g>
<g fill="#4c3b54" fill-opacity="0.67"><circle cx="911.1" cy="375.9" r="4.0"/><circle cx="931.7" cy="374.6" r="4.0"/><circle cx="900.2" cy="381.4" r="4.0"/><circle cx="913.6" cy="383.9" r="4.0"/><circle cx="921.2" cy="380.1" r="4.0"/><circle cx="924.1" cy="384.3" r="4.0"/><circle cx="934.6" cy="383.0" r="4.0"/><circle cx="904.0" cy="387.7" r="4.0"/><circle cx="909.5" cy="389.8" r="4.0"/><circle cx="928.3" cy="388.9" r="4.0"/><circle cx="918.3" cy="397.3" r="4.0"/><circle cx="901.1" cy="402.8" r="4.0"/><circle cx="914.5" cy="409.5" r="4.0"/><circle cx="935.9" cy="406.5" r="4.0"/><circle cx="899.8" cy="412.4" r="4.0"/><circle cx="906.1" cy="415.8" r="4.0"/><circle cx="927.9" cy="411.2" r="4.0"/><circle cx="937.1" cy="414.1" r="4.0"/><circle cx="922.5" cy="416.6" r="4.0"/><circle cx="886.0" cy="417.4" r="4.0"/><circle cx="947.2" cy="418.7" r="4.0"/><circle cx="907.8" cy="422.1" r="4.0"/><circle cx="929.2" cy="422.5" r="4.0"/><circle cx="870.9" cy="426.7" r="4.0"/><circle cx="884.3" cy="424.6" r="4.0"/><circle cx="889.7" cy="428.8" r="4.0"/><circle cx="895.2" cy="425.4" r="4.0"/><circle cx="913.6" cy="427.1" r="4.0"/><circle cx="917.8" cy="426.7" r="4.0"/><circle cx="938.0" cy="427.5" r="4.0"/><circle cx="941.8" cy="425.4" r="4.0"/><circle cx="950.6" cy="428.8" r="4.0"/><circle cx="961.9" cy="426.7" r="4.0"/><circle cx="901.5" cy="431.3" r="4.0"/><circle cx="926.7" cy="431.7" r="4.0"/><circle cx="875.5" cy="434.2" r="4.0"/><circle cx="881.3" cy="438.0" r="4.0"/><circle cx="907.8" cy="435.5" r="4.0"/><circle cx="933.4" cy="436.7" r="4.0"/><circle cx="946.8" cy="438.4" r="4.0"/><circle cx="958.5" cy="434.2" r="4.0"/><circle cx="867.5" cy="442.2" r="4.0"/><circle cx="883.9" cy="444.3" r="4.0"/><circle cx="893.9" cy="440.5" r="4.0"/><circle cx="910.7" cy="443.5" r="4.0"/><circle cx="920.4" cy="440.1" r="4.0"/><circle cx="937.1" cy="443.5" r="4.0"/><circle cx="964.0" cy="442.2" r="4.0"/><circle cx="871.3" cy="448.5" r="4.0"/><circle cx="878.4" cy="450.6" r="4.0"/><circle cx="897.3" cy="447.7" r="4.0"/><circle cx="904.0" cy="448.5" r="4.0"/><circle cx="923.7" cy="447.7" r="4.0"/><circle cx="930.0" cy="450.2" r="4.0"/><circle cx="950.1" cy="447.2" r="4.0"/><circle cx="956.9" cy="448.5" r="4.0"/><circle cx="867.5" cy="454.4" r="4.0"/><circle cx="891.4" cy="451.8" r="4.0"/><circle cx="917.0" cy="453.5" r="4.0"/><circle cx="914.1" cy="457.7" r="4.0"/><circle cx="943.0" cy="451.8" r="4.0"/><circle cx="938.4" cy="458.1" r="4.0"/><circle cx="962.7" cy="456.9" r="4.0"/><circle cx="880.5" cy="462.8" r="4.0"/><circle cx="891.8" cy="460.2" r="4.0"/><circle cx="903.6" cy="461.1" r="4.0"/><circle cx="909.5" cy="466.1" r="4.0"/><circle cx="926.2" cy="461.5" r="4.0"/><circle cx="949.3" cy="460.2" r="4.0"/><circle cx="955.2" cy="462.8" r="4.0"/><circle cx="873.1" cy="473.2" r="4.0"/><circle cx="885.2" cy="471.3" r="4.0"/><circle cx="896.8" cy="472.3" r="4.0"/><circle cx="911.8" cy="473.7" r="4.0"/><circle cx="920.5" cy="472.3" r="4.0"/><circle cx="932.6" cy="470.3" r="4.0"/><circle cx="944.7" cy="472.7" r="4.0"/><circle cx="959.7" cy="473.7" r="4.0"/><circle cx="876.4" cy="478.6" r="4.0"/><circle cx="887.6" cy="475.2" r="4.0"/><circle cx="899.7" cy="476.6" r="4.0"/><circle cx="923.9" cy="477.1" r="4.0"/><circle cx="935.5" cy="475.2" r="4.0"/><circle cx="947.6" cy="475.7" r="4.0"/><circle cx="953.0" cy="479.0" r="4.0"/><circle cx="884.7" cy="482.9" r="4.0"/><circle cx="906.0" cy="481.5" r="4.0"/><circle cx="928.3" cy="482.4" r="4.0"/><circle cx="939.4" cy="483.9" r="4.0"/><circle cx="877.4" cy="488.7" r="4.0"/><circle cx="896.8" cy="486.8" r="4.0"/><circle cx="917.6" cy="487.3" r="4.0"/><circle cx="913.7" cy="492.1" r="4.0"/><circle cx="933.1" cy="492.6" r="4.0"/><circle cx="941.8" cy="494.5" r="4.0"/><circle cx="952.5" cy="490.7" r="4.0"/><circle cx="894.9" cy="493.6" r="4.0"/><circle cx="888.6" cy="499.9" r="4.0"/><circle cx="905.5" cy="497.9" r="4.0"/><circle cx="909.9" cy="500.8" r="4.0"/><circle cx="922.9" cy="497.9" r="4.0"/><circle cx="926.8" cy="501.8" r="4.0"/><circle cx="943.3" cy="499.9" r="4.0"/><circle cx="933.1" cy="505.7" r="4.0"/><circle cx="895.3" cy="504.7" r="4.0"/><circle cx="903.6" cy="506.6" r="4.0"/><circle cx="892.4" cy="511.0" r="4.0"/><circle cx="918.1" cy="509.1" r="4.0"/><circle cx="936.5" cy="513.4" r="4.0"/><circle cx="913.7" cy="516.3" r="4.0"/><circle cx="923.9" cy="517.8" r="4.0"/><circle cx="905.0" cy="521.7" r="4.0"/><circle cx="927.3" cy="525.5" r="4.0"/><circle cx="910.8" cy="529.4" r="4.0"/><circle cx="918.6" cy="529.4" r="4.0"/><circle cx="903.6" cy="533.3" r="4.0"/><circle cx="912.8" cy="536.2" r="4.0"/><circle cx="926.8" cy="535.2" r="4.0"/><circle cx="918.6" cy="544.4" r="4.0"/><circle cx="912.8" cy="555.6" r="4.0"/><circle cx="919.1" cy="568.2" r="4.0"/><circle cx="913.7" cy="570.6" r="4.0"/><circle cx="916.2" cy="585.6" r="4.0"/><circle cx="917.6" cy="147.2" r="4.0"/><circle cx="915.3" cy="192.9" r="4.0"/><circle cx="916.6" cy="206.4" r="4.0"/><circle cx="913.7" cy="227.9" r="4.0"/><circle cx="919.2" cy="240.6" r="4.0"/><circle cx="916.3" cy="260.3" r="4.0"/><circle cx="918.4" cy="299.8" r="4.0"/><circle cx="912.4" cy="305.0" r="4.0"/><circle cx="920.5" cy="305.7" r="4.0"/><circle cx="914.0" cy="323.9" r="4.0"/><circle cx="906.7" cy="334.8" r="4.0"/><circle cx="917.9" cy="332.2" r="4.0"/><circle cx="913.2" cy="341.3" r="4.0"/><circle cx="919.7" cy="341.3" r="4.0"/><circle cx="926.2" cy="340.5" r="4.0"/><circle cx="905.9" cy="348.0" r="4.0"/><circle cx="907.5" cy="358.1" r="4.0"/><circle cx="916.6" cy="358.1" r="4.0"/><circle cx="925.6" cy="358.1" r="4.0"/><circle cx="896.9" cy="362.0" r="4.0"/><circle cx="906.2" cy="365.9" r="4.0"/><circle cx="915.8" cy="364.6" r="4.0"/><circle cx="926.2" cy="365.9" r="4.0"/><circle cx="936.0" cy="364.6" r="4.0"/></g>
<g fill="#e7773f" fill-opacity="0.68"><circle cx="1371.3" cy="181.7" r="4.0"/><circle cx="1368.7" cy="199.3" r="4.0"/><circle cx="1370.4" cy="211.1" r="4.0"/><circle cx="1361.2" cy="215.3" r="4.0"/><circle cx="1368.3" cy="221.6" r="4.0"/><circle cx="1374.6" cy="222.8" r="4.0"/><circle cx="1380.1" cy="219.9" r="4.0"/><circle cx="1363.3" cy="225.8" r="4.0"/><circle cx="1376.7" cy="227.4" r="4.0"/><circle cx="1366.6" cy="235.8" r="4.0"/><circle cx="1371.3" cy="237.1" r="4.0"/><circle cx="1361.2" cy="243.0" r="4.0"/><circle cx="1378.0" cy="244.2" r="4.0"/><circle cx="1365.4" cy="251.8" r="4.0"/><circle cx="1375.5" cy="253.5" r="4.0"/><circle cx="1382.6" cy="255.6" r="4.0"/><circle cx="1352.4" cy="255.1" r="4.0"/><circle cx="1357.4" cy="256.0" r="4.0"/><circle cx="1369.6" cy="258.1" r="4.0"/><circle cx="1369.2" cy="262.3" r="4.0"/><circle cx="1337.3" cy="259.8" r="4.0"/><circle cx="1349.4" cy="263.9" r="4.0"/><circle cx="1359.1" cy="264.4" r="4.0"/><circle cx="1379.7" cy="264.4" r="4.0"/><circle cx="1389.3" cy="263.5" r="4.0"/><circle cx="1399.4" cy="264.4" r="4.0"/><circle cx="1405.2" cy="261.4" r="4.0"/><circle cx="1408.2" cy="267.3" r="4.0"/><circle cx="1337.3" cy="266.0" r="4.0"/><circle cx="1339.8" cy="270.7" r="4.0"/><circle cx="1351.1" cy="270.7" r="4.0"/><circle cx="1364.1" cy="269.0" r="4.0"/><circle cx="1375.0" cy="270.7" r="4.0"/><circle cx="1386.4" cy="269.0" r="4.0"/><circle cx="1398.5" cy="269.8" r="4.0"/><circle cx="1325.9" cy="271.9" r="4.0"/><circle cx="1326.8" cy="275.7" r="4.0"/><circle cx="1340.2" cy="275.3" r="4.0"/><circle cx="1352.8" cy="274.9" r="4.0"/><circle cx="1365.8" cy="272.3" r="4.0"/><circle cx="1378.8" cy="275.7" r="4.0"/><circle cx="1391.4" cy="275.3" r="4.0"/><circle cx="1403.6" cy="275.3" r="4.0"/><circle cx="1411.1" cy="277.0" r="4.0"/><circle cx="1415.3" cy="272.3" r="4.0"/><circle cx="1318.8" cy="282.6" r="4.0"/><circle cx="1332.2" cy="281.3" r="4.0"/><circle cx="1345.7" cy="281.7" r="4.0"/><circle cx="1359.1" cy="280.5" r="4.0"/><circle cx="1369.2" cy="283.4" r="4.0"/><circle cx="1372.5" cy="282.6" r="4.0"/><circle cx="1385.5" cy="280.5" r="4.0"/><circle cx="1394.8" cy="283.4" r="4.0"/><circle cx="1399.4" cy="281.7" r="4.0"/><circle cx="1421.2" cy="283.8" r="4.0"/><circle cx="1326.4" cy="288.4" r="4.0"/><circle cx="1320.9" cy="291.4" r="4.0"/><circle cx="1333.9" cy="290.1" r="4.0"/><circle cx="1340.6" cy="285.1" r="4.0"/><circle cx="1347.3" cy="290.9" r="4.0"/><circle cx="1354.1" cy="288.4" r="4.0"/><circle cx="1360.4" cy="289.3" r="4.0"/><circle cx="1364.1" cy="293.5" r="4.0"/><circle cx="1374.2" cy="291.4" r="4.0"/><circle cx="1380.9" cy="288.4" r="4.0"/><circle cx="1387.6" cy="289.7" r="4.0"/><circle cx="1390.1" cy="295.1" r="4.0"/><circle cx="1401.1" cy="290.1" r="4.0"/><circle cx="1408.6" cy="287.6" r="4.0"/><circle cx="1415.3" cy="288.8" r="4.0"/><circle cx="1416.6" cy="292.6" r="4.0"/><circle cx="1339.0" cy="296.4" r="4.0"/><circle cx="1326.4" cy="298.5" r="4.0"/><circle cx="1351.5" cy="298.1" r="4.0"/><circle cx="1358.3" cy="300.2" r="4.0"/><circle cx="1376.7" cy="298.5" r="4.0"/><circle cx="1402.3" cy="296.8" r="4.0"/><circle cx="1319.7" cy="304.4" r="4.0"/><circle cx="1332.2" cy="301.0" r="4.0"/><circle cx="1344.4" cy="304.4" r="4.0"/><circle cx="1330.1" cy="308.6" r="4.0"/><circle cx="1330.1" cy="314.4" r="4.0"/><circle cx="1339.0" cy="311.9" r="4.0"/><circle cx="1351.1" cy="312.8" r="4.0"/><circle cx="1355.7" cy="308.6" r="4.0"/><circle cx="1360.8" cy="311.1" r="4.0"/><circle cx="1365.8" cy="315.7" r="4.0"/><circle cx="1369.6" cy="304.4" r="4.0"/><circle cx="1374.2" cy="313.2" r="4.0"/><circle cx="1380.9" cy="308.6" r="4.0"/><circle cx="1383.4" cy="301.9" r="4.0"/><circle cx="1386.4" cy="311.5" r="4.0"/><circle cx="1396.0" cy="302.7" r="4.0"/><circle cx="1393.5" cy="306.9" r="4.0"/><circle cx="1397.7" cy="312.3" r="4.0"/><circle cx="1405.2" cy="306.9" r="4.0"/><circle cx="1409.4" cy="311.1" r="4.0"/><circle cx="1408.2" cy="316.1" r="4.0"/><circle cx="1419.1" cy="306.5" r="4.0"/><circle cx="1339.8" cy="321.6" r="4.0"/><circle cx="1348.2" cy="320.7" r="4.0"/><circle cx="1357.4" cy="320.7" r="4.0"/><circle cx="1362.9" cy="325.3" r="4.0"/><circle cx="1375.9" cy="321.6" r="4.0"/><circle cx="1385.9" cy="318.6" r="4.0"/><circle cx="1395.6" cy="322.0" r="4.0"/><circle cx="1340.6" cy="332.1" r="4.0"/><circle cx="1347.3" cy="328.3" r="4.0"/><circle cx="1355.7" cy="329.1" r="4.0"/><circle cx="1368.3" cy="332.9" r="4.0"/><circle cx="1370.8" cy="329.1" r="4.0"/><circle cx="1379.2" cy="327.4" r="4.0"/><circle cx="1386.4" cy="328.7" r="4.0"/><circle cx="1398.1" cy="332.9" r="4.0"/><circle cx="1347.3" cy="340.9" r="4.0"/><circle cx="1354.1" cy="337.9" r="4.0"/><circle cx="1360.8" cy="339.2" r="4.0"/><circle cx="1365.0" cy="343.8" r="4.0"/><circle cx="1352.4" cy="344.6" r="4.0"/><circle cx="1375.0" cy="340.0" r="4.0"/><circle cx="1378.0" cy="343.8" r="4.0"/><circle cx="1383.0" cy="336.7" r="4.0"/><circle cx="1382.6" cy="347.6" r="4.0"/><circle cx="1390.1" cy="340.0" r="4.0"/><circle cx="1391.4" cy="343.8" r="4.0"/><circle cx="1360.8" cy="349.7" r="4.0"/><circle cx="1353.2" cy="355.6" r="4.0"/><circle cx="1359.9" cy="358.5" r="4.0"/><circle cx="1367.5" cy="357.2" r="4.0"/><circle cx="1371.3" cy="355.1" r="4.0"/><circle cx="1375.9" cy="358.5" r="4.0"/><circle cx="1385.1" cy="356.4" r="4.0"/><circle cx="1358.3" cy="373.2" r="4.0"/><circle cx="1365.0" cy="370.7" r="4.0"/><circle cx="1371.3" cy="371.9" r="4.0"/><circle cx="1378.0" cy="368.1" r="4.0"/><circle cx="1379.7" cy="375.3" r="4.0"/><circle cx="1367.1" cy="378.2" r="4.0"/><circle cx="1372.9" cy="380.7" r="4.0"/><circle cx="1364.1" cy="384.5" r="4.0"/><circle cx="1372.4" cy="392.6" r="4.0"/><circle cx="1368.2" cy="406.7" r="4.0"/><circle cx="1370.0" cy="414.0" r="4.0"/></g>
<g fill="#c25f48" fill-opacity="0.68"><circle cx="1545.7" cy="193.8" r="4.0"/><circle cx="1554.1" cy="190.5" r="4.0"/><circle cx="1556.6" cy="194.7" r="4.0"/><circle cx="1547.8" cy="199.3" r="4.0"/><circle cx="1552.4" cy="205.6" r="4.0"/><circle cx="1540.7" cy="213.6" r="4.0"/><circle cx="1541.5" cy="219.4" r="4.0"/><circle cx="1548.2" cy="215.2" r="4.0"/><circle cx="1554.5" cy="219.0" r="4.0"/><circle cx="1560.8" cy="215.2" r="4.0"/><circle cx="1557.5" cy="226.6" r="4.0"/><circle cx="1545.3" cy="228.7" r="4.0"/><circle cx="1539.8" cy="234.1" r="4.0"/><circle cx="1551.2" cy="234.1" r="4.0"/><circle cx="1561.7" cy="235.8" r="4.0"/><circle cx="1551.2" cy="242.1" r="4.0"/><circle cx="1559.1" cy="253.8" r="4.0"/><circle cx="1539.4" cy="257.6" r="4.0"/><circle cx="1530.2" cy="261.4" r="4.0"/><circle cx="1546.1" cy="261.8" r="4.0"/><circle cx="1558.7" cy="261.0" r="4.0"/><circle cx="1570.0" cy="260.1" r="4.0"/><circle cx="1575.5" cy="262.2" r="4.0"/><circle cx="1532.3" cy="265.2" r="4.0"/><circle cx="1539.4" cy="267.7" r="4.0"/><circle cx="1554.5" cy="267.3" r="4.0"/><circle cx="1561.7" cy="265.2" r="4.0"/><circle cx="1569.2" cy="266.4" r="4.0"/><circle cx="1525.2" cy="269.8" r="4.0"/><circle cx="1578.0" cy="270.2" r="4.0"/><circle cx="1549.1" cy="273.6" r="4.0"/><circle cx="1534.0" cy="277.3" r="4.0"/><circle cx="1563.8" cy="276.9" r="4.0"/><circle cx="1540.3" cy="282.0" r="4.0"/><circle cx="1557.9" cy="282.4" r="4.0"/><circle cx="1574.7" cy="281.1" r="4.0"/><circle cx="1519.7" cy="284.2" r="4.0"/><circle cx="1582.2" cy="284.2" r="4.0"/><circle cx="1541.9" cy="286.3" r="4.0"/><circle cx="1563.3" cy="286.3" r="4.0"/><circle cx="1507.1" cy="290.5" r="4.0"/><circle cx="1530.6" cy="288.4" r="4.0"/><circle cx="1524.7" cy="293.4" r="4.0"/><circle cx="1552.8" cy="289.2" r="4.0"/><circle cx="1549.5" cy="292.2" r="4.0"/><circle cx="1573.0" cy="292.6" r="4.0"/><circle cx="1585.1" cy="293.0" r="4.0"/><circle cx="1595.6" cy="290.5" r="4.0"/><circle cx="1512.6" cy="295.1" r="4.0"/><circle cx="1536.9" cy="293.8" r="4.0"/><circle cx="1542.8" cy="297.6" r="4.0"/><circle cx="1561.2" cy="295.1" r="4.0"/><circle cx="1567.1" cy="298.9" r="4.0"/><circle cx="1518.4" cy="298.9" r="4.0"/><circle cx="1591.9" cy="297.6" r="4.0"/><circle cx="1506.3" cy="301.8" r="4.0"/><circle cx="1530.6" cy="300.1" r="4.0"/><circle cx="1554.9" cy="301.8" r="4.0"/><circle cx="1579.3" cy="299.7" r="4.0"/><circle cx="1594.4" cy="303.5" r="4.0"/><circle cx="1521.4" cy="306.0" r="4.0"/><circle cx="1534.0" cy="307.7" r="4.0"/><circle cx="1546.1" cy="305.2" r="4.0"/><circle cx="1570.0" cy="305.6" r="4.0"/><circle cx="1582.2" cy="307.3" r="4.0"/><circle cx="1509.6" cy="310.6" r="4.0"/><circle cx="1515.5" cy="311.5" r="4.0"/><circle cx="1539.8" cy="311.0" r="4.0"/><circle cx="1558.3" cy="309.4" r="4.0"/><circle cx="1563.8" cy="311.0" r="4.0"/><circle cx="1576.3" cy="311.9" r="4.0"/><circle cx="1588.1" cy="310.6" r="4.0"/><circle cx="1527.7" cy="313.6" r="4.0"/><circle cx="1550.7" cy="315.2" r="4.0"/><circle cx="1502.9" cy="316.1" r="4.0"/><circle cx="1549.5" cy="318.2" r="4.0"/><circle cx="1574.7" cy="318.2" r="4.0"/><circle cx="1599.4" cy="318.2" r="4.0"/><circle cx="1524.3" cy="319.9" r="4.0"/><circle cx="1536.5" cy="321.1" r="4.0"/><circle cx="1543.2" cy="323.6" r="4.0"/><circle cx="1562.5" cy="321.5" r="4.0"/><circle cx="1587.7" cy="319.9" r="4.0"/><circle cx="1510.5" cy="322.4" r="4.0"/><circle cx="1596.1" cy="323.6" r="4.0"/><circle cx="1515.5" cy="325.7" r="4.0"/><circle cx="1529.3" cy="327.4" r="4.0"/><circle cx="1502.1" cy="328.2" r="4.0"/><circle cx="1546.1" cy="329.1" r="4.0"/><circle cx="1555.8" cy="327.8" r="4.0"/><circle cx="1570.0" cy="326.6" r="4.0"/><circle cx="1573.0" cy="329.5" r="4.0"/><circle cx="1583.5" cy="327.0" r="4.0"/><circle cx="1600.3" cy="328.7" r="4.0"/><circle cx="1507.9" cy="332.9" r="4.0"/><circle cx="1520.1" cy="330.8" r="4.0"/><circle cx="1533.5" cy="332.9" r="4.0"/><circle cx="1559.6" cy="332.0" r="4.0"/><circle cx="1540.3" cy="334.1" r="4.0"/><circle cx="1565.0" cy="334.5" r="4.0"/><circle cx="1585.6" cy="332.9" r="4.0"/><circle cx="1591.0" cy="332.9" r="4.0"/><circle cx="1512.1" cy="339.2" r="4.0"/><circle cx="1518.4" cy="336.6" r="4.0"/><circle cx="1530.2" cy="337.1" r="4.0"/><circle cx="1552.8" cy="337.1" r="4.0"/><circle cx="1575.5" cy="336.2" r="4.0"/><circle cx="1587.2" cy="339.6" r="4.0"/><circle cx="1549.5" cy="341.7" r="4.0"/><circle cx="1536.1" cy="345.5" r="4.0"/><circle cx="1543.2" cy="347.5" r="4.0"/><circle cx="1563.3" cy="345.0" r="4.0"/><circle cx="1568.8" cy="346.7" r="4.0"/><circle cx="1555.4" cy="351.7" r="4.0"/><circle cx="1532.3" cy="357.6" r="4.0"/><circle cx="1534.8" cy="361.0" r="4.0"/><circle cx="1540.3" cy="361.8" r="4.0"/><circle cx="1547.0" cy="359.3" r="4.0"/><circle cx="1552.8" cy="364.3" r="4.0"/><circle cx="1559.1" cy="361.0" r="4.0"/><circle cx="1565.0" cy="361.4" r="4.0"/><circle cx="1570.9" cy="359.3" r="4.0"/><circle cx="1528.1" cy="366.8" r="4.0"/><circle cx="1572.1" cy="368.1" r="4.0"/><circle cx="1537.7" cy="372.3" r="4.0"/><circle cx="1548.6" cy="370.6" r="4.0"/><circle cx="1559.1" cy="371.9" r="4.0"/><circle cx="1564.2" cy="373.6" r="4.0"/><circle cx="1544.9" cy="378.2" r="4.0"/><circle cx="1538.2" cy="383.2" r="4.0"/><circle cx="1552.8" cy="382.0" r="4.0"/><circle cx="1561.7" cy="384.9" r="4.0"/><circle cx="1548.6" cy="389.1" r="4.0"/><circle cx="1553.7" cy="389.5" r="4.0"/><circle cx="1552.5" cy="85.1" r="4.0"/><circle cx="1550.0" cy="137.3" r="4.0"/><circle cx="1551.5" cy="151.2" r="4.0"/><circle cx="1546.5" cy="165.0" r="4.0"/><circle cx="1556.0" cy="169.0" r="4.0"/><circle cx="1550.5" cy="177.0" r="4.0"/><circle cx="1544.0" cy="393.9" r="4.0"/><circle cx="1552.3" cy="409.0" r="4.0"/><circle cx="1549.2" cy="434.8" r="4.0"/><circle cx="1551.2" cy="439.4" r="4.0"/></g>
<g fill="#8a4e4c" fill-opacity="0.63"><circle cx="1734.2" cy="91.9" r="4.0"/><circle cx="1731.0" cy="99.0" r="4.0"/><circle cx="1732.7" cy="125.1" r="4.0"/><circle cx="1728.7" cy="132.2" r="4.0"/><circle cx="1736.1" cy="142.8" r="4.0"/><circle cx="1731.9" cy="148.5" r="4.0"/><circle cx="1733.8" cy="163.4" r="4.0"/><circle cx="1727.9" cy="174.3" r="4.0"/><circle cx="1737.6" cy="176.6" r="4.0"/><circle cx="1729.2" cy="180.6" r="4.0"/><circle cx="1723.7" cy="185.7" r="4.0"/><circle cx="1733.8" cy="184.6" r="4.0"/><circle cx="1740.1" cy="191.2" r="4.0"/><circle cx="1730.0" cy="194.3" r="4.0"/><circle cx="1735.0" cy="199.4" r="4.0"/><circle cx="1725.8" cy="201.7" r="4.0"/><circle cx="1736.4" cy="202.9" r="4.0"/><circle cx="1729.6" cy="211.5" r="4.0"/><circle cx="1724.1" cy="228.6" r="4.0"/><circle cx="1732.7" cy="227.5" r="4.0"/><circle cx="1740.7" cy="228.6" r="4.0"/><circle cx="1732.0" cy="234.6" r="4.0"/><circle cx="1739.1" cy="240.1" r="4.0"/><circle cx="1716.9" cy="248.5" r="4.0"/><circle cx="1723.2" cy="245.6" r="4.0"/><circle cx="1727.4" cy="247.2" r="4.0"/><circle cx="1737.0" cy="248.1" r="4.0"/><circle cx="1746.3" cy="246.4" r="4.0"/><circle cx="1750.9" cy="250.2" r="4.0"/><circle cx="1717.7" cy="253.9" r="4.0"/><circle cx="1729.5" cy="253.5" r="4.0"/><circle cx="1740.4" cy="253.5" r="4.0"/><circle cx="1746.7" cy="257.3" r="4.0"/><circle cx="1710.6" cy="261.9" r="4.0"/><circle cx="1723.2" cy="260.7" r="4.0"/><circle cx="1734.9" cy="261.1" r="4.0"/><circle cx="1730.3" cy="264.9" r="4.0"/><circle cx="1742.9" cy="264.9" r="4.0"/><circle cx="1755.5" cy="264.0" r="4.0"/><circle cx="1749.6" cy="268.2" r="4.0"/><circle cx="1717.3" cy="268.2" r="4.0"/><circle cx="1723.6" cy="271.6" r="4.0"/><circle cx="1709.3" cy="274.5" r="4.0"/><circle cx="1711.9" cy="278.3" r="4.0"/><circle cx="1726.1" cy="276.2" r="4.0"/><circle cx="1737.0" cy="272.4" r="4.0"/><circle cx="1741.2" cy="277.0" r="4.0"/><circle cx="1755.1" cy="276.2" r="4.0"/><circle cx="1703.5" cy="281.2" r="4.0"/><circle cx="1718.6" cy="280.0" r="4.0"/><circle cx="1733.3" cy="281.2" r="4.0"/><circle cx="1730.7" cy="284.2" r="4.0"/><circle cx="1748.4" cy="279.5" r="4.0"/><circle cx="1763.1" cy="283.7" r="4.0"/><circle cx="1695.5" cy="293.0" r="4.0"/><circle cx="1708.5" cy="292.1" r="4.0"/><circle cx="1718.6" cy="292.5" r="4.0"/><circle cx="1724.5" cy="293.8" r="4.0"/><circle cx="1742.9" cy="292.1" r="4.0"/><circle cx="1751.7" cy="291.3" r="4.0"/><circle cx="1763.9" cy="293.0" r="4.0"/><circle cx="1771.0" cy="293.8" r="4.0"/><circle cx="1684.2" cy="297.6" r="4.0"/><circle cx="1698.9" cy="298.0" r="4.0"/><circle cx="1710.6" cy="297.6" r="4.0"/><circle cx="1726.1" cy="298.0" r="4.0"/><circle cx="1736.2" cy="297.2" r="4.0"/><circle cx="1747.5" cy="295.5" r="4.0"/><circle cx="1753.4" cy="298.8" r="4.0"/><circle cx="1761.4" cy="297.2" r="4.0"/><circle cx="1779.0" cy="298.0" r="4.0"/><circle cx="1685.9" cy="301.8" r="4.0"/><circle cx="1699.7" cy="300.9" r="4.0"/><circle cx="1713.5" cy="301.4" r="4.0"/><circle cx="1719.8" cy="303.0" r="4.0"/><circle cx="1740.0" cy="301.4" r="4.0"/><circle cx="1746.3" cy="303.9" r="4.0"/><circle cx="1767.2" cy="301.4" r="4.0"/><circle cx="1774.0" cy="303.0" r="4.0"/><circle cx="1681.2" cy="307.7" r="4.0"/><circle cx="1693.0" cy="305.6" r="4.0"/><circle cx="1706.8" cy="306.4" r="4.0"/><circle cx="1732.8" cy="307.7" r="4.0"/><circle cx="1759.7" cy="305.6" r="4.0"/><circle cx="1781.5" cy="308.5" r="4.0"/><circle cx="1696.3" cy="312.7" r="4.0"/><circle cx="1705.2" cy="316.0" r="4.0"/><circle cx="1719.0" cy="312.3" r="4.0"/><circle cx="1725.3" cy="315.2" r="4.0"/><circle cx="1716.1" cy="317.7" r="4.0"/><circle cx="1742.5" cy="312.3" r="4.0"/><circle cx="1746.7" cy="315.6" r="4.0"/><circle cx="1755.1" cy="310.6" r="4.0"/><circle cx="1756.3" cy="316.9" r="4.0"/><circle cx="1767.2" cy="312.3" r="4.0"/><circle cx="1770.6" cy="313.5" r="4.0"/><circle cx="1698.9" cy="321.5" r="4.0"/><circle cx="1735.8" cy="319.8" r="4.0"/><circle cx="1764.3" cy="324.0" r="4.0"/><circle cx="1704.7" cy="329.9" r="4.0"/><circle cx="1712.3" cy="327.0" r="4.0"/><circle cx="1721.1" cy="328.2" r="4.0"/><circle cx="1729.1" cy="325.3" r="4.0"/><circle cx="1737.9" cy="329.5" r="4.0"/><circle cx="1746.3" cy="326.5" r="4.0"/><circle cx="1755.1" cy="327.4" r="4.0"/><circle cx="1758.0" cy="330.3" r="4.0"/><circle cx="1710.2" cy="333.8" r="4.0"/><circle cx="1706.8" cy="339.3" r="4.0"/><circle cx="1719.0" cy="336.3" r="4.0"/><circle cx="1732.0" cy="337.6" r="4.0"/><circle cx="1740.8" cy="333.4" r="4.0"/><circle cx="1748.4" cy="334.6" r="4.0"/><circle cx="1756.3" cy="339.7" r="4.0"/><circle cx="1721.9" cy="346.0" r="4.0"/><circle cx="1741.7" cy="343.9" r="4.0"/><circle cx="1745.0" cy="346.8" r="4.0"/><circle cx="1727.4" cy="352.3" r="4.0"/><circle cx="1735.4" cy="354.8" r="4.0"/><circle cx="1717.7" cy="359.0" r="4.0"/><circle cx="1719.0" cy="363.2" r="4.0"/><circle cx="1729.1" cy="361.1" r="4.0"/><circle cx="1724.0" cy="365.7" r="4.0"/><circle cx="1738.7" cy="363.2" r="4.0"/><circle cx="1743.3" cy="365.7" r="4.0"/><circle cx="1747.1" cy="360.2" r="4.0"/><circle cx="1733.7" cy="369.9" r="4.0"/><circle cx="1715.6" cy="372.4" r="4.0"/><circle cx="1747.9" cy="373.7" r="4.0"/><circle cx="1722.8" cy="378.7" r="4.0"/><circle cx="1730.3" cy="375.8" r="4.0"/><circle cx="1738.7" cy="375.8" r="4.0"/><circle cx="1740.8" cy="382.1" r="4.0"/><circle cx="1727.8" cy="385.0" r="4.0"/><circle cx="1733.7" cy="388.8" r="4.0"/><circle cx="1725.3" cy="393.8" r="4.0"/><circle cx="1730.7" cy="403.5" r="4.0"/><circle cx="1737.9" cy="401.4" r="4.0"/><circle cx="1734.1" cy="409.8" r="4.0"/><circle cx="1729.5" cy="417.3" r="4.0"/><circle cx="1733.7" cy="429.9" r="4.0"/><circle cx="1731.5" cy="473.8" r="4.0"/><circle cx="1732.0" cy="533.4" r="4.0"/></g>
<g fill="#6a4a5e" fill-opacity="0.68"><circle cx="1893.2" cy="74.9" r="4.0"/><circle cx="1899.5" cy="77.2" r="4.0"/><circle cx="1904.7" cy="72.6" r="4.0"/><circle cx="1910.4" cy="75.4" r="4.0"/><circle cx="1915.0" cy="74.3" r="4.0"/><circle cx="1921.8" cy="76.0" r="4.0"/><circle cx="1924.7" cy="69.2" r="4.0"/><circle cx="1932.7" cy="74.9" r="4.0"/><circle cx="1929.3" cy="82.9" r="4.0"/><circle cx="1904.7" cy="88.6" r="4.0"/><circle cx="1893.2" cy="94.3" r="4.0"/><circle cx="1897.2" cy="100.1" r="4.0"/><circle cx="1908.1" cy="100.1" r="4.0"/><circle cx="1916.7" cy="92.0" r="4.0"/><circle cx="1919.0" cy="100.1" r="4.0"/><circle cx="1931.0" cy="97.2" r="4.0"/><circle cx="1904.7" cy="115.5" r="4.0"/><circle cx="1923.0" cy="113.2" r="4.0"/><circle cx="1913.8" cy="124.1" r="4.0"/><circle cx="1897.2" cy="130.4" r="4.0"/><circle cx="1913.2" cy="133.8" r="4.0"/><circle cx="1930.4" cy="132.1" r="4.0"/><circle cx="1904.7" cy="143.0" r="4.0"/><circle cx="1921.8" cy="141.3" r="4.0"/><circle cx="1926.4" cy="152.7" r="4.0"/><circle cx="1908.7" cy="157.3" r="4.0"/><circle cx="1917.8" cy="159.6" r="4.0"/><circle cx="1899.5" cy="163.6" r="4.0"/><circle cx="1911.0" cy="167.6" r="4.0"/><circle cx="1929.3" cy="164.1" r="4.0"/><circle cx="1920.1" cy="173.3" r="4.0"/><circle cx="1901.8" cy="177.3" r="4.0"/><circle cx="1905.8" cy="189.9" r="4.0"/><circle cx="1925.3" cy="188.2" r="4.0"/><circle cx="1895.5" cy="197.9" r="4.0"/><circle cx="1916.1" cy="195.6" r="4.0"/><circle cx="1901.7" cy="206.3" r="4.0"/><circle cx="1912.2" cy="204.2" r="4.0"/><circle cx="1922.2" cy="204.6" r="4.0"/><circle cx="1932.3" cy="203.4" r="4.0"/><circle cx="1927.3" cy="208.8" r="4.0"/><circle cx="1906.7" cy="213.5" r="4.0"/><circle cx="1917.2" cy="226.9" r="4.0"/><circle cx="1894.5" cy="232.8" r="4.0"/><circle cx="1896.6" cy="237.0" r="4.0"/><circle cx="1908.8" cy="234.9" r="4.0"/><circle cx="1920.6" cy="235.3" r="4.0"/><circle cx="1932.3" cy="234.4" r="4.0"/><circle cx="1927.7" cy="244.1" r="4.0"/><circle cx="1887.0" cy="248.7" r="4.0"/><circle cx="1901.3" cy="246.2" r="4.0"/><circle cx="1914.7" cy="247.4" r="4.0"/><circle cx="1942.8" cy="254.6" r="4.0"/><circle cx="1894.5" cy="264.2" r="4.0"/><circle cx="1912.2" cy="262.5" r="4.0"/><circle cx="1929.4" cy="263.4" r="4.0"/><circle cx="1938.6" cy="264.6" r="4.0"/><circle cx="1902.5" cy="268.8" r="4.0"/><circle cx="1906.7" cy="273.9" r="4.0"/><circle cx="1921.4" cy="270.1" r="4.0"/><circle cx="1882.4" cy="273.0" r="4.0"/><circle cx="1885.7" cy="276.8" r="4.0"/><circle cx="1927.3" cy="276.4" r="4.0"/><circle cx="1946.6" cy="273.5" r="4.0"/><circle cx="1938.2" cy="279.3" r="4.0"/><circle cx="1872.3" cy="284.4" r="4.0"/><circle cx="1895.0" cy="282.7" r="4.0"/><circle cx="1917.2" cy="283.9" r="4.0"/><circle cx="1954.1" cy="286.0" r="4.0"/><circle cx="1884.9" cy="291.5" r="4.0"/><circle cx="1908.4" cy="289.4" r="4.0"/><circle cx="1931.9" cy="290.7" r="4.0"/><circle cx="1944.1" cy="293.2" r="4.0"/><circle cx="1895.8" cy="296.5" r="4.0"/><circle cx="1920.6" cy="297.0" r="4.0"/><circle cx="1871.0" cy="300.5" r="4.0"/><circle cx="1876.9" cy="302.6" r="4.0"/><circle cx="1889.5" cy="303.4" r="4.0"/><circle cx="1902.1" cy="302.6" r="4.0"/><circle cx="1926.8" cy="302.6" r="4.0"/><circle cx="1939.4" cy="303.4" r="4.0"/><circle cx="1952.0" cy="302.1" r="4.0"/><circle cx="1862.2" cy="311.4" r="4.0"/><circle cx="1914.3" cy="308.8" r="4.0"/><circle cx="1911.7" cy="313.5" r="4.0"/><circle cx="1964.2" cy="312.6" r="4.0"/><circle cx="1885.7" cy="315.6" r="4.0"/><circle cx="1898.7" cy="318.9" r="4.0"/><circle cx="1938.6" cy="315.1" r="4.0"/><circle cx="1951.6" cy="316.0" r="4.0"/><circle cx="1871.5" cy="320.2" r="4.0"/><circle cx="1925.2" cy="320.2" r="4.0"/><circle cx="1905.5" cy="325.2" r="4.0"/><circle cx="1959.2" cy="324.4" r="4.0"/><circle cx="1878.2" cy="329.4" r="4.0"/><circle cx="1891.6" cy="330.2" r="4.0"/><circle cx="1932.3" cy="328.1" r="4.0"/><circle cx="1946.1" cy="329.8" r="4.0"/><circle cx="1864.3" cy="333.2" r="4.0"/><circle cx="1908.4" cy="334.9" r="4.0"/><circle cx="1918.9" cy="332.8" r="4.0"/><circle cx="1935.7" cy="335.3" r="4.0"/><circle cx="1962.9" cy="334.0" r="4.0"/><circle cx="1868.5" cy="342.4" r="4.0"/><circle cx="1881.5" cy="339.9" r="4.0"/><circle cx="1895.0" cy="341.6" r="4.0"/><circle cx="1902.1" cy="343.2" r="4.0"/><circle cx="1921.8" cy="341.6" r="4.0"/><circle cx="1949.1" cy="340.3" r="4.0"/><circle cx="1955.4" cy="342.4" r="4.0"/><circle cx="1876.5" cy="349.1" r="4.0"/><circle cx="1889.9" cy="352.1" r="4.0"/><circle cx="1928.1" cy="347.9" r="4.0"/><circle cx="1940.7" cy="350.8" r="4.0"/><circle cx="1866.4" cy="355.8" r="4.0"/><circle cx="1915.1" cy="354.2" r="4.0"/><circle cx="1958.3" cy="358.4" r="4.0"/><circle cx="1910.9" cy="359.6" r="4.0"/><circle cx="1888.2" cy="363.4" r="4.0"/><circle cx="1899.6" cy="363.8" r="4.0"/><circle cx="1921.8" cy="365.5" r="4.0"/><circle cx="1933.6" cy="363.4" r="4.0"/><circle cx="1944.5" cy="363.4" r="4.0"/><circle cx="1879.0" cy="367.2" r="4.0"/><circle cx="1905.9" cy="368.4" r="4.0"/><circle cx="1926.4" cy="370.1" r="4.0"/><circle cx="1947.8" cy="368.0" r="4.0"/><circle cx="1887.4" cy="373.5" r="4.0"/><circle cx="1898.7" cy="378.1" r="4.0"/><circle cx="1915.5" cy="380.2" r="4.0"/><circle cx="1933.1" cy="377.7" r="4.0"/><circle cx="1887.0" cy="386.0" r="4.0"/><circle cx="1938.2" cy="386.5" r="4.0"/><circle cx="1910.5" cy="392.3" r="4.0"/><circle cx="1901.7" cy="398.2" r="4.0"/><circle cx="1920.6" cy="397.8" r="4.0"/><circle cx="1925.6" cy="398.6" r="4.0"/><circle cx="1907.5" cy="402.0" r="4.0"/><circle cx="1914.5" cy="424.8" r="4.0"/><circle cx="1908.8" cy="437.1" r="4.0"/><circle cx="1918.9" cy="458.6" r="4.0"/><circle cx="1911.4" cy="467.8" r="4.0"/><circle cx="1915.8" cy="472.6" r="4.0"/><circle cx="1907.0" cy="480.5" r="4.0"/><circle cx="1909.6" cy="496.3" r="4.0"/><circle cx="1917.5" cy="495.9" r="4.0"/><circle cx="1913.6" cy="502.9" r="4.0"/></g>
<g fill="#463a50" fill-opacity="0.69"><circle cx="2060.7" cy="71.4" r="4.0"/><circle cx="2080.0" cy="69.7" r="4.0"/><circle cx="2097.2" cy="69.7" r="4.0"/><circle cx="2114.4" cy="69.3" r="4.0"/><circle cx="2127.4" cy="71.4" r="4.0"/><circle cx="2068.7" cy="76.4" r="4.0"/><circle cx="2090.5" cy="73.0" r="4.0"/><circle cx="2110.6" cy="75.6" r="4.0"/><circle cx="2054.0" cy="81.4" r="4.0"/><circle cx="2058.2" cy="84.4" r="4.0"/><circle cx="2078.3" cy="78.9" r="4.0"/><circle cx="2083.4" cy="83.1" r="4.0"/><circle cx="2101.0" cy="79.8" r="4.0"/><circle cx="2107.3" cy="83.1" r="4.0"/><circle cx="2122.4" cy="77.7" r="4.0"/><circle cx="2120.3" cy="84.8" r="4.0"/><circle cx="2130.8" cy="81.4" r="4.0"/><circle cx="2041.8" cy="91.1" r="4.0"/><circle cx="2069.1" cy="88.6" r="4.0"/><circle cx="2094.7" cy="91.1" r="4.0"/><circle cx="2093.8" cy="94.0" r="4.0"/><circle cx="2121.1" cy="94.4" r="4.0"/><circle cx="2147.5" cy="92.3" r="4.0"/><circle cx="2053.6" cy="99.1" r="4.0"/><circle cx="2067.0" cy="96.1" r="4.0"/><circle cx="2080.4" cy="97.4" r="4.0"/><circle cx="2087.1" cy="99.9" r="4.0"/><circle cx="2107.7" cy="97.4" r="4.0"/><circle cx="2114.4" cy="100.7" r="4.0"/><circle cx="2135.0" cy="96.5" r="4.0"/><circle cx="2141.7" cy="99.9" r="4.0"/><circle cx="2048.1" cy="106.2" r="4.0"/><circle cx="2060.3" cy="102.8" r="4.0"/><circle cx="2074.1" cy="103.2" r="4.0"/><circle cx="2090.9" cy="106.6" r="4.0"/><circle cx="2100.6" cy="104.5" r="4.0"/><circle cx="2127.4" cy="103.2" r="4.0"/><circle cx="2142.9" cy="105.8" r="4.0"/><circle cx="2066.2" cy="110.8" r="4.0"/><circle cx="2078.7" cy="111.2" r="4.0"/><circle cx="2103.1" cy="112.1" r="4.0"/><circle cx="2116.1" cy="110.4" r="4.0"/><circle cx="2128.2" cy="110.8" r="4.0"/><circle cx="2057.8" cy="117.5" r="4.0"/><circle cx="2086.3" cy="121.3" r="4.0"/><circle cx="2130.3" cy="117.5" r="4.0"/><circle cx="2068.2" cy="125.5" r="4.0"/><circle cx="2106.0" cy="125.5" r="4.0"/><circle cx="2064.1" cy="132.6" r="4.0"/><circle cx="2079.6" cy="131.8" r="4.0"/><circle cx="2096.4" cy="131.4" r="4.0"/><circle cx="2113.6" cy="130.1" r="4.0"/><circle cx="2124.1" cy="134.7" r="4.0"/><circle cx="2093.4" cy="140.6" r="4.0"/><circle cx="2105.6" cy="143.1" r="4.0"/><circle cx="2083.8" cy="152.3" r="4.0"/><circle cx="2108.5" cy="154.0" r="4.0"/><circle cx="2081.0" cy="173.4" r="4.0"/><circle cx="2089.9" cy="170.9" r="4.0"/><circle cx="2098.4" cy="172.9" r="4.0"/><circle cx="2109.3" cy="173.9" r="4.0"/><circle cx="2091.4" cy="177.4" r="4.0"/><circle cx="2100.8" cy="181.8" r="4.0"/><circle cx="2082.0" cy="194.7" r="4.0"/><circle cx="2086.5" cy="198.7" r="4.0"/><circle cx="2106.3" cy="196.2" r="4.0"/><circle cx="2075.5" cy="203.6" r="4.0"/><circle cx="2096.4" cy="201.7" r="4.0"/><circle cx="2113.7" cy="205.1" r="4.0"/><circle cx="2092.4" cy="209.6" r="4.0"/><circle cx="2103.8" cy="216.5" r="4.0"/><circle cx="2080.5" cy="219.5" r="4.0"/><circle cx="2109.8" cy="221.0" r="4.0"/><circle cx="2086.0" cy="225.5" r="4.0"/><circle cx="2098.4" cy="225.5" r="4.0"/><circle cx="2073.1" cy="230.4" r="4.0"/><circle cx="2114.2" cy="231.9" r="4.0"/><circle cx="2088.4" cy="236.9" r="4.0"/><circle cx="2075.0" cy="242.3" r="4.0"/><circle cx="2101.8" cy="240.8" r="4.0"/><circle cx="2108.8" cy="244.3" r="4.0"/><circle cx="2081.5" cy="247.3" r="4.0"/><circle cx="2067.6" cy="251.2" r="4.0"/><circle cx="2095.4" cy="250.7" r="4.0"/><circle cx="2093.9" cy="256.7" r="4.0"/><circle cx="2121.7" cy="253.7" r="4.0"/><circle cx="2107.8" cy="257.7" r="4.0"/><circle cx="2080.0" cy="261.2" r="4.0"/><circle cx="2114.7" cy="262.2" r="4.0"/><circle cx="2086.9" cy="268.1" r="4.0"/><circle cx="2100.3" cy="268.6" r="4.0"/><circle cx="2074.5" cy="272.1" r="4.0"/><circle cx="2090.9" cy="274.6" r="4.0"/><circle cx="2116.7" cy="273.1" r="4.0"/><circle cx="2078.5" cy="278.5" r="4.0"/><circle cx="2103.3" cy="277.5" r="4.0"/><circle cx="2109.3" cy="280.0" r="4.0"/><circle cx="2085.5" cy="285.0" r="4.0"/><circle cx="2096.9" cy="292.9" r="4.0"/><circle cx="2077.0" cy="298.9" r="4.0"/><circle cx="2092.9" cy="303.3" r="4.0"/><circle cx="2111.7" cy="302.9" r="4.0"/><circle cx="2101.8" cy="308.3" r="4.0"/><circle cx="2084.0" cy="311.8" r="4.0"/><circle cx="2106.3" cy="318.7" r="4.0"/><circle cx="2088.4" cy="329.6" r="4.0"/><circle cx="2097.9" cy="333.6" r="4.0"/><circle cx="2079.0" cy="336.6" r="4.0"/><circle cx="2090.9" cy="338.6" r="4.0"/><circle cx="2109.3" cy="337.1" r="4.0"/><circle cx="2081.0" cy="345.0" r="4.0"/><circle cx="2099.8" cy="343.0" r="4.0"/><circle cx="2104.8" cy="346.0" r="4.0"/><circle cx="2086.0" cy="350.5" r="4.0"/><circle cx="2095.4" cy="351.0" r="4.0"/><circle cx="2076.5" cy="366.3" r="4.0"/><circle cx="2112.2" cy="369.3" r="4.0"/><circle cx="2093.4" cy="374.8" r="4.0"/><circle cx="2103.3" cy="375.7" r="4.0"/><circle cx="2083.5" cy="380.7" r="4.0"/><circle cx="2108.8" cy="383.2" r="4.0"/><circle cx="2087.9" cy="388.1" r="4.0"/><circle cx="2098.8" cy="392.1" r="4.0"/><circle cx="2076.5" cy="395.1" r="4.0"/><circle cx="2113.7" cy="398.6" r="4.0"/><circle cx="2079.0" cy="406.5" r="4.0"/><circle cx="2084.5" cy="408.0" r="4.0"/><circle cx="2090.4" cy="404.0" r="4.0"/><circle cx="2101.8" cy="404.5" r="4.0"/><circle cx="2107.8" cy="407.0" r="4.0"/><circle cx="2096.4" cy="413.8" r="4.0"/><circle cx="2073.3" cy="416.8" r="4.0"/><circle cx="2091.8" cy="420.5" r="4.0"/><circle cx="2103.1" cy="423.0" r="4.0"/><circle cx="2115.0" cy="418.9" r="4.0"/><circle cx="2082.5" cy="431.3" r="4.0"/><circle cx="2087.7" cy="434.9" r="4.0"/><circle cx="2107.3" cy="431.3" r="4.0"/><circle cx="2081.0" cy="443.1" r="4.0"/><circle cx="2090.8" cy="444.1" r="4.0"/><circle cx="2097.0" cy="442.6" r="4.0"/><circle cx="2106.2" cy="444.1" r="4.0"/><circle cx="2097.0" cy="464.2" r="4.0"/><circle cx="2091.3" cy="489.5" r="4.0"/><circle cx="2097.5" cy="490.5" r="4.0"/><circle cx="2093.4" cy="525.5" r="4.0"/></g>
</svg>
</body></html>
